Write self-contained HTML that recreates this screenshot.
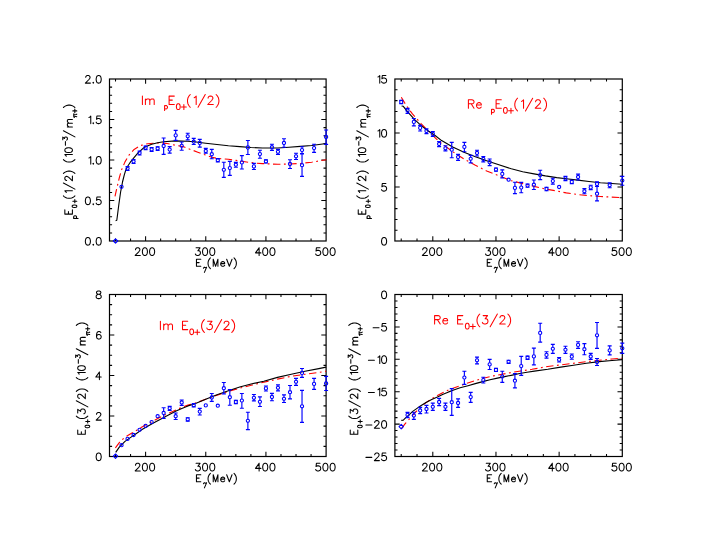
<!DOCTYPE html>
<html><head><meta charset="utf-8"><title>chart</title>
<style>html,body{margin:0;padding:0;background:#fff}svg{display:block}</style></head>
<body>
<svg width="705" height="545" viewBox="0 0 705 545">
<rect width="705" height="545" fill="#fff"/>
<path d="M115.52 241.00v-2.6M115.52 79.00v2.6M130.56 241.00v-2.6M130.56 79.00v2.6M145.60 241.00v-4.8M145.60 79.00v4.8M160.64 241.00v-2.6M160.64 79.00v2.6M175.68 241.00v-2.6M175.68 79.00v2.6M190.73 241.00v-2.6M190.73 79.00v2.6M205.77 241.00v-4.8M205.77 79.00v4.8M220.81 241.00v-2.6M220.81 79.00v2.6M235.85 241.00v-2.6M235.85 79.00v2.6M250.89 241.00v-2.6M250.89 79.00v2.6M265.93 241.00v-4.8M265.93 79.00v4.8M280.98 241.00v-2.6M280.98 79.00v2.6M296.02 241.00v-2.6M296.02 79.00v2.6M311.06 241.00v-2.6M311.06 79.00v2.6M109.50 232.90h2.6M326.10 232.90h-2.6M109.50 224.80h2.6M326.10 224.80h-2.6M109.50 216.70h2.6M326.10 216.70h-2.6M109.50 208.60h2.6M326.10 208.60h-2.6M109.50 200.50h4.8M326.10 200.50h-4.8M109.50 192.40h2.6M326.10 192.40h-2.6M109.50 184.30h2.6M326.10 184.30h-2.6M109.50 176.20h2.6M326.10 176.20h-2.6M109.50 168.10h2.6M326.10 168.10h-2.6M109.50 160.00h4.8M326.10 160.00h-4.8M109.50 151.90h2.6M326.10 151.90h-2.6M109.50 143.80h2.6M326.10 143.80h-2.6M109.50 135.70h2.6M326.10 135.70h-2.6M109.50 127.60h2.6M326.10 127.60h-2.6M109.50 119.50h4.8M326.10 119.50h-4.8M109.50 111.40h2.6M326.10 111.40h-2.6M109.50 103.30h2.6M326.10 103.30h-2.6M109.50 95.20h2.6M326.10 95.20h-2.6M109.50 87.10h2.6M326.10 87.10h-2.6" stroke="#000" stroke-width="1.05" fill="none"/>
<rect x="109.5" y="79.0" width="216.60" height="162.00" fill="none" stroke="#000" stroke-width="1.2"/>
<path transform="translate(84.28 245.10)" d="M3.24 -7.56L2.16 -7.20L1.44 -6.12L1.08 -4.32L1.08 -3.24L1.44 -1.44L2.16 -0.36L3.24 0.00L3.96 0.00L5.04 -0.36L5.76 -1.44L6.12 -3.24L6.12 -4.32L5.76 -6.12L5.04 -7.20L3.96 -7.56L3.24 -7.56M9.00 -0.72L8.64 -0.36L9.00 0.00L9.36 -0.36L9.00 -0.72M14.04 -7.56L12.96 -7.20L12.24 -6.12L11.88 -4.32L11.88 -3.24L12.24 -1.44L12.96 -0.36L14.04 0.00L14.76 0.00L15.84 -0.36L16.56 -1.44L16.92 -3.24L16.92 -4.32L16.56 -6.12L15.84 -7.20L14.76 -7.56L14.04 -7.56" fill="none" stroke="#000" stroke-width="1.05" stroke-linecap="round" stroke-linejoin="round"/>
<path transform="translate(84.28 204.60)" d="M3.24 -7.56L2.16 -7.20L1.44 -6.12L1.08 -4.32L1.08 -3.24L1.44 -1.44L2.16 -0.36L3.24 0.00L3.96 0.00L5.04 -0.36L5.76 -1.44L6.12 -3.24L6.12 -4.32L5.76 -6.12L5.04 -7.20L3.96 -7.56L3.24 -7.56M9.00 -0.72L8.64 -0.36L9.00 0.00L9.36 -0.36L9.00 -0.72M16.20 -7.56L12.60 -7.56L12.24 -4.32L12.60 -4.68L13.68 -5.04L14.76 -5.04L15.84 -4.68L16.56 -3.96L16.92 -2.88L16.92 -2.16L16.56 -1.08L15.84 -0.36L14.76 0.00L13.68 0.00L12.60 -0.36L12.24 -0.72L11.88 -1.44" fill="none" stroke="#000" stroke-width="1.05" stroke-linecap="round" stroke-linejoin="round"/>
<path transform="translate(86.80 164.10)" d="M2.16 -6.12L2.88 -6.48L3.96 -7.56L3.96 0.00M6.48 -0.72L6.12 -0.36L6.48 0.00L6.84 -0.36L6.48 -0.72M11.52 -7.56L10.44 -7.20L9.72 -6.12L9.36 -4.32L9.36 -3.24L9.72 -1.44L10.44 -0.36L11.52 0.00L12.24 0.00L13.32 -0.36L14.04 -1.44L14.40 -3.24L14.40 -4.32L14.04 -6.12L13.32 -7.20L12.24 -7.56L11.52 -7.56" fill="none" stroke="#000" stroke-width="1.05" stroke-linecap="round" stroke-linejoin="round"/>
<path transform="translate(86.80 123.60)" d="M2.16 -6.12L2.88 -6.48L3.96 -7.56L3.96 0.00M6.48 -0.72L6.12 -0.36L6.48 0.00L6.84 -0.36L6.48 -0.72M13.68 -7.56L10.08 -7.56L9.72 -4.32L10.08 -4.68L11.16 -5.04L12.24 -5.04L13.32 -4.68L14.04 -3.96L14.40 -2.88L14.40 -2.16L14.04 -1.08L13.32 -0.36L12.24 0.00L11.16 0.00L10.08 -0.36L9.72 -0.72L9.36 -1.44" fill="none" stroke="#000" stroke-width="1.05" stroke-linecap="round" stroke-linejoin="round"/>
<path transform="translate(84.28 83.10)" d="M1.44 -5.76L1.44 -6.12L1.80 -6.84L2.16 -7.20L2.88 -7.56L4.32 -7.56L5.04 -7.20L5.40 -6.84L5.76 -6.12L5.76 -5.40L5.40 -4.68L4.68 -3.60L1.08 0.00L6.12 0.00M9.00 -0.72L8.64 -0.36L9.00 0.00L9.36 -0.36L9.00 -0.72M14.04 -7.56L12.96 -7.20L12.24 -6.12L11.88 -4.32L11.88 -3.24L12.24 -1.44L12.96 -0.36L14.04 0.00L14.76 0.00L15.84 -0.36L16.56 -1.44L16.92 -3.24L16.92 -4.32L16.56 -6.12L15.84 -7.20L14.76 -7.56L14.04 -7.56" fill="none" stroke="#000" stroke-width="1.05" stroke-linecap="round" stroke-linejoin="round"/>
<path transform="translate(134.10 255.40)" d="M1.44 -5.76L1.44 -6.12L1.80 -6.84L2.16 -7.20L2.88 -7.56L4.32 -7.56L5.04 -7.20L5.40 -6.84L5.76 -6.12L5.76 -5.40L5.40 -4.68L4.68 -3.60L1.08 0.00L6.12 0.00M10.44 -7.56L9.36 -7.20L8.64 -6.12L8.28 -4.32L8.28 -3.24L8.64 -1.44L9.36 -0.36L10.44 0.00L11.16 0.00L12.24 -0.36L12.96 -1.44L13.32 -3.24L13.32 -4.32L12.96 -6.12L12.24 -7.20L11.16 -7.56L10.44 -7.56M17.64 -7.56L16.56 -7.20L15.84 -6.12L15.48 -4.32L15.48 -3.24L15.84 -1.44L16.56 -0.36L17.64 0.00L18.36 0.00L19.44 -0.36L20.16 -1.44L20.52 -3.24L20.52 -4.32L20.16 -6.12L19.44 -7.20L18.36 -7.56L17.64 -7.56" fill="none" stroke="#000" stroke-width="1.05" stroke-linecap="round" stroke-linejoin="round"/>
<path transform="translate(194.27 255.40)" d="M1.80 -7.56L5.76 -7.56L3.60 -4.68L4.68 -4.68L5.40 -4.32L5.76 -3.96L6.12 -2.88L6.12 -2.16L5.76 -1.08L5.04 -0.36L3.96 0.00L2.88 0.00L1.80 -0.36L1.44 -0.72L1.08 -1.44M10.44 -7.56L9.36 -7.20L8.64 -6.12L8.28 -4.32L8.28 -3.24L8.64 -1.44L9.36 -0.36L10.44 0.00L11.16 0.00L12.24 -0.36L12.96 -1.44L13.32 -3.24L13.32 -4.32L12.96 -6.12L12.24 -7.20L11.16 -7.56L10.44 -7.56M17.64 -7.56L16.56 -7.20L15.84 -6.12L15.48 -4.32L15.48 -3.24L15.84 -1.44L16.56 -0.36L17.64 0.00L18.36 0.00L19.44 -0.36L20.16 -1.44L20.52 -3.24L20.52 -4.32L20.16 -6.12L19.44 -7.20L18.36 -7.56L17.64 -7.56" fill="none" stroke="#000" stroke-width="1.05" stroke-linecap="round" stroke-linejoin="round"/>
<path transform="translate(254.43 255.40)" d="M4.68 -7.56L1.08 -2.52L6.48 -2.52M4.68 -7.56L4.68 0.00M10.44 -7.56L9.36 -7.20L8.64 -6.12L8.28 -4.32L8.28 -3.24L8.64 -1.44L9.36 -0.36L10.44 0.00L11.16 0.00L12.24 -0.36L12.96 -1.44L13.32 -3.24L13.32 -4.32L12.96 -6.12L12.24 -7.20L11.16 -7.56L10.44 -7.56M17.64 -7.56L16.56 -7.20L15.84 -6.12L15.48 -4.32L15.48 -3.24L15.84 -1.44L16.56 -0.36L17.64 0.00L18.36 0.00L19.44 -0.36L20.16 -1.44L20.52 -3.24L20.52 -4.32L20.16 -6.12L19.44 -7.20L18.36 -7.56L17.64 -7.56" fill="none" stroke="#000" stroke-width="1.05" stroke-linecap="round" stroke-linejoin="round"/>
<path transform="translate(314.60 255.40)" d="M5.40 -7.56L1.80 -7.56L1.44 -4.32L1.80 -4.68L2.88 -5.04L3.96 -5.04L5.04 -4.68L5.76 -3.96L6.12 -2.88L6.12 -2.16L5.76 -1.08L5.04 -0.36L3.96 0.00L2.88 0.00L1.80 -0.36L1.44 -0.72L1.08 -1.44M10.44 -7.56L9.36 -7.20L8.64 -6.12L8.28 -4.32L8.28 -3.24L8.64 -1.44L9.36 -0.36L10.44 0.00L11.16 0.00L12.24 -0.36L12.96 -1.44L13.32 -3.24L13.32 -4.32L12.96 -6.12L12.24 -7.20L11.16 -7.56L10.44 -7.56M17.64 -7.56L16.56 -7.20L15.84 -6.12L15.48 -4.32L15.48 -3.24L15.84 -1.44L16.56 -0.36L17.64 0.00L18.36 0.00L19.44 -0.36L20.16 -1.44L20.52 -3.24L20.52 -4.32L20.16 -6.12L19.44 -7.20L18.36 -7.56L17.64 -7.56" fill="none" stroke="#000" stroke-width="1.05" stroke-linecap="round" stroke-linejoin="round"/>
<path d="M115.0 196.3 L116.6 189.1 L117.6 185.0 L119.4 177.4 L121.6 169.8 L125.0 161.9 L129.0 155.1 L134.1 149.4 L140.9 145.4 L147.7 143.7 L153.4 143.2 L160.2 142.9 L167.0 143.5 L175.0 145.2 L183.0 146.6 L189.8 149.2 L197.8 152.2 L205.7 155.1 L212.0 157.3 L218.0 158.5 L228.4 159.3 L236.0 160.4 L241.9 161.3 L248.0 162.2 L254.0 163.0 L262.4 163.6 L277.7 164.3 L289.0 164.0 L300.4 163.5 L311.7 162.2 L326.3 159.7" fill="none" stroke="#f00" stroke-width="1.12" stroke-linejoin="round" stroke-dasharray="7.4 3.5 1.8 3.5"/>
<path d="M115.6 220.7 L116.8 220.3 L117.5 215.0 L118.7 205.5 L120.6 192.0 L121.8 185.9 L122.5 182.0 L124.3 174.8 L125.5 170.8 L127.5 166.5 L130.0 162.7 L133.6 158.2 L137.8 153.2 L139.7 151.3 L143.5 148.0 L145.6 146.7 L151.7 144.2 L157.6 142.8 L163.6 141.8 L175.7 140.9 L187.4 141.2 L194.3 141.8 L205.7 143.2 L217.0 144.5 L228.4 145.7 L239.7 146.6 L251.1 147.5 L262.4 148.0 L277.7 148.0 L289.0 147.2 L300.4 146.4 L311.7 145.5 L326.3 143.5" fill="none" stroke="#000" stroke-width="1.12" stroke-linejoin="round"/>
<path d="M127.55 166.5V166.9M127.55 170.1V170.5M125.55 166.5h4M125.55 170.5h4M133.57 159.5V159.9M133.57 163.1V163.5M131.57 159.5h4M131.57 163.5h4M139.58 151.0V151.4M139.58 154.6V155.0M137.58 151.0h4M137.58 155.0h4M145.60 146.0V146.1M145.60 149.3V149.6M143.60 146.0h4M143.60 149.6h4M151.62 147.6V147.8M151.62 151.0V151.4M149.62 147.6h4M149.62 151.4h4M157.63 146.7V146.9M157.63 150.1V150.4M155.63 146.7h4M155.63 150.4h4M163.65 138.0V144.4M163.65 147.6V154.3M161.65 138.0h4M161.65 154.3h4M169.67 146.6V148.0M169.67 151.2V153.1M167.67 146.6h4M167.67 153.1h4M175.68 130.3V133.8M175.68 137.0V140.3M173.68 130.3h4M173.68 140.3h4M181.70 142.0V144.2M181.70 147.4V150.2M179.70 142.0h4M179.70 150.2h4M187.72 133.2V134.7M187.72 137.9V139.8M185.72 133.2h4M185.72 139.8h4M193.73 138.4V140.1M193.73 143.3V144.5M191.73 138.4h4M191.73 144.5h4M199.75 139.4V141.3M199.75 144.5V147.1M197.75 139.4h4M197.75 147.1h4M205.77 148.3V149.4M205.77 152.6V153.1M203.77 148.3h4M203.77 153.1h4M211.78 149.4V152.6M211.78 155.8V158.7M209.78 149.4h4M209.78 158.7h4M217.80 158.6V158.6M217.80 161.8V161.8M215.80 158.6h4M215.80 161.8h4M223.82 162.2V168.2M223.82 171.4V177.4M221.82 162.2h4M221.82 177.4h4M229.83 161.3V166.5M229.83 169.7V175.3M227.83 161.3h4M227.83 175.3h4M235.85 162.4V163.1M235.85 166.3V167.2M233.85 162.4h4M233.85 167.2h4M241.87 155.6V160.8M241.87 164.0V169.0M239.87 155.6h4M239.87 169.0h4M247.88 140.5V145.9M247.88 149.1V154.5M245.88 140.5h4M245.88 154.5h4M253.90 163.4V164.8M253.90 168.0V169.5M251.90 163.4h4M251.90 169.5h4M259.92 150.2V152.5M259.92 155.7V158.2M257.92 150.2h4M257.92 158.2h4M265.93 159.8V159.8M265.93 163.0V163.0M263.93 159.8h4M263.93 163.0h4M271.95 144.2V145.6M271.95 148.8V150.4M269.95 144.2h4M269.95 150.4h4M277.97 149.3V150.2M277.97 153.4V154.3M275.97 149.3h4M275.97 154.3h4M283.98 138.7V141.4M283.98 144.6V147.2M281.98 138.7h4M281.98 147.2h4M290.00 159.7V162.4M290.00 165.6V168.5M288.00 159.7h4M288.00 168.5h4M296.02 153.2V154.7M296.02 157.9V159.5M294.02 153.2h4M294.02 159.5h4M302.03 146.7V148.5M302.03 151.7V153.5M300.03 146.7h4M300.03 153.5h4M302.03 153.8V163.6M302.03 166.8V176.4M300.03 153.8h4M300.03 176.4h4M314.07 144.2V146.5M314.07 149.7V152.3M312.07 144.2h4M312.07 152.3h4M326.10 130.0V135.4M326.10 138.6V144.4M324.10 130.0h4M324.10 144.4h4" stroke="#00f" stroke-width="1.15" fill="none"/>
<g fill="none" stroke="#00f" stroke-width="1.1"><circle cx="121.53" cy="186.8" r="1.6"/><circle cx="127.55" cy="168.5" r="1.6"/><circle cx="133.57" cy="161.5" r="1.6"/><circle cx="139.58" cy="153.0" r="1.6"/><circle cx="145.60" cy="147.7" r="1.6"/><circle cx="151.62" cy="149.4" r="1.6"/><circle cx="157.63" cy="148.5" r="1.6"/><circle cx="163.65" cy="146.0" r="1.6"/><circle cx="169.67" cy="149.6" r="1.6"/><circle cx="175.68" cy="135.4" r="1.6"/><circle cx="181.70" cy="145.8" r="1.6"/><circle cx="187.72" cy="136.3" r="1.6"/><circle cx="193.73" cy="141.7" r="1.6"/><circle cx="199.75" cy="142.9" r="1.6"/><circle cx="205.77" cy="151.0" r="1.6"/><circle cx="211.78" cy="154.2" r="1.6"/><circle cx="217.80" cy="160.2" r="1.6"/><circle cx="223.82" cy="169.8" r="1.6"/><circle cx="229.83" cy="168.1" r="1.6"/><circle cx="235.85" cy="164.7" r="1.6"/><circle cx="241.87" cy="162.4" r="1.6"/><circle cx="247.88" cy="147.5" r="1.6"/><circle cx="253.90" cy="166.4" r="1.6"/><circle cx="259.92" cy="154.1" r="1.6"/><circle cx="265.93" cy="161.4" r="1.6"/><circle cx="271.95" cy="147.2" r="1.6"/><circle cx="277.97" cy="151.8" r="1.6"/><circle cx="283.98" cy="143.0" r="1.6"/><circle cx="290.00" cy="164.0" r="1.6"/><circle cx="296.02" cy="156.3" r="1.6"/><circle cx="302.03" cy="150.1" r="1.6"/><circle cx="302.03" cy="165.2" r="1.6"/><circle cx="314.07" cy="148.1" r="1.6"/><circle cx="326.10" cy="137.0" r="1.6"/></g>
<path d="M113.32 241.0L115.52 238.8L117.72 241.0L115.52 243.2Z" stroke="#00f" stroke-width="1.1" fill="none" stroke-linejoin="round"/>
<path d="M401.22 241.00v-2.6M401.22 79.00v2.6M417.01 241.00v-2.6M417.01 79.00v2.6M432.80 241.00v-4.8M432.80 79.00v4.8M448.59 241.00v-2.6M448.59 79.00v2.6M464.38 241.00v-2.6M464.38 79.00v2.6M480.17 241.00v-2.6M480.17 79.00v2.6M495.97 241.00v-4.8M495.97 79.00v4.8M511.76 241.00v-2.6M511.76 79.00v2.6M527.55 241.00v-2.6M527.55 79.00v2.6M543.34 241.00v-2.6M543.34 79.00v2.6M559.13 241.00v-4.8M559.13 79.00v4.8M574.92 241.00v-2.6M574.92 79.00v2.6M590.72 241.00v-2.6M590.72 79.00v2.6M606.51 241.00v-2.6M606.51 79.00v2.6M394.90 230.20h2.6M622.30 230.20h-2.6M394.90 219.40h2.6M622.30 219.40h-2.6M394.90 208.60h2.6M622.30 208.60h-2.6M394.90 197.80h2.6M622.30 197.80h-2.6M394.90 187.00h4.8M622.30 187.00h-4.8M394.90 176.20h2.6M622.30 176.20h-2.6M394.90 165.40h2.6M622.30 165.40h-2.6M394.90 154.60h2.6M622.30 154.60h-2.6M394.90 143.80h2.6M622.30 143.80h-2.6M394.90 133.00h4.8M622.30 133.00h-4.8M394.90 122.20h2.6M622.30 122.20h-2.6M394.90 111.40h2.6M622.30 111.40h-2.6M394.90 100.60h2.6M622.30 100.60h-2.6M394.90 89.80h2.6M622.30 89.80h-2.6" stroke="#000" stroke-width="1.05" fill="none"/>
<rect x="394.9" y="79.0" width="227.40" height="162.00" fill="none" stroke="#000" stroke-width="1.2"/>
<path transform="translate(380.48 245.10)" d="M3.24 -7.56L2.16 -7.20L1.44 -6.12L1.08 -4.32L1.08 -3.24L1.44 -1.44L2.16 -0.36L3.24 0.00L3.96 0.00L5.04 -0.36L5.76 -1.44L6.12 -3.24L6.12 -4.32L5.76 -6.12L5.04 -7.20L3.96 -7.56L3.24 -7.56" fill="none" stroke="#000" stroke-width="1.05" stroke-linecap="round" stroke-linejoin="round"/>
<path transform="translate(380.48 191.10)" d="M5.40 -7.56L1.80 -7.56L1.44 -4.32L1.80 -4.68L2.88 -5.04L3.96 -5.04L5.04 -4.68L5.76 -3.96L6.12 -2.88L6.12 -2.16L5.76 -1.08L5.04 -0.36L3.96 0.00L2.88 0.00L1.80 -0.36L1.44 -0.72L1.08 -1.44" fill="none" stroke="#000" stroke-width="1.05" stroke-linecap="round" stroke-linejoin="round"/>
<path transform="translate(375.80 137.10)" d="M2.16 -6.12L2.88 -6.48L3.96 -7.56L3.96 0.00M7.92 -7.56L6.84 -7.20L6.12 -6.12L5.76 -4.32L5.76 -3.24L6.12 -1.44L6.84 -0.36L7.92 0.00L8.64 0.00L9.72 -0.36L10.44 -1.44L10.80 -3.24L10.80 -4.32L10.44 -6.12L9.72 -7.20L8.64 -7.56L7.92 -7.56" fill="none" stroke="#000" stroke-width="1.05" stroke-linecap="round" stroke-linejoin="round"/>
<path transform="translate(375.80 83.10)" d="M2.16 -6.12L2.88 -6.48L3.96 -7.56L3.96 0.00M10.08 -7.56L6.48 -7.56L6.12 -4.32L6.48 -4.68L7.56 -5.04L8.64 -5.04L9.72 -4.68L10.44 -3.96L10.80 -2.88L10.80 -2.16L10.44 -1.08L9.72 -0.36L8.64 0.00L7.56 0.00L6.48 -0.36L6.12 -0.72L5.76 -1.44" fill="none" stroke="#000" stroke-width="1.05" stroke-linecap="round" stroke-linejoin="round"/>
<path transform="translate(421.30 255.40)" d="M1.44 -5.76L1.44 -6.12L1.80 -6.84L2.16 -7.20L2.88 -7.56L4.32 -7.56L5.04 -7.20L5.40 -6.84L5.76 -6.12L5.76 -5.40L5.40 -4.68L4.68 -3.60L1.08 0.00L6.12 0.00M10.44 -7.56L9.36 -7.20L8.64 -6.12L8.28 -4.32L8.28 -3.24L8.64 -1.44L9.36 -0.36L10.44 0.00L11.16 0.00L12.24 -0.36L12.96 -1.44L13.32 -3.24L13.32 -4.32L12.96 -6.12L12.24 -7.20L11.16 -7.56L10.44 -7.56M17.64 -7.56L16.56 -7.20L15.84 -6.12L15.48 -4.32L15.48 -3.24L15.84 -1.44L16.56 -0.36L17.64 0.00L18.36 0.00L19.44 -0.36L20.16 -1.44L20.52 -3.24L20.52 -4.32L20.16 -6.12L19.44 -7.20L18.36 -7.56L17.64 -7.56" fill="none" stroke="#000" stroke-width="1.05" stroke-linecap="round" stroke-linejoin="round"/>
<path transform="translate(484.47 255.40)" d="M1.80 -7.56L5.76 -7.56L3.60 -4.68L4.68 -4.68L5.40 -4.32L5.76 -3.96L6.12 -2.88L6.12 -2.16L5.76 -1.08L5.04 -0.36L3.96 0.00L2.88 0.00L1.80 -0.36L1.44 -0.72L1.08 -1.44M10.44 -7.56L9.36 -7.20L8.64 -6.12L8.28 -4.32L8.28 -3.24L8.64 -1.44L9.36 -0.36L10.44 0.00L11.16 0.00L12.24 -0.36L12.96 -1.44L13.32 -3.24L13.32 -4.32L12.96 -6.12L12.24 -7.20L11.16 -7.56L10.44 -7.56M17.64 -7.56L16.56 -7.20L15.84 -6.12L15.48 -4.32L15.48 -3.24L15.84 -1.44L16.56 -0.36L17.64 0.00L18.36 0.00L19.44 -0.36L20.16 -1.44L20.52 -3.24L20.52 -4.32L20.16 -6.12L19.44 -7.20L18.36 -7.56L17.64 -7.56" fill="none" stroke="#000" stroke-width="1.05" stroke-linecap="round" stroke-linejoin="round"/>
<path transform="translate(547.63 255.40)" d="M4.68 -7.56L1.08 -2.52L6.48 -2.52M4.68 -7.56L4.68 0.00M10.44 -7.56L9.36 -7.20L8.64 -6.12L8.28 -4.32L8.28 -3.24L8.64 -1.44L9.36 -0.36L10.44 0.00L11.16 0.00L12.24 -0.36L12.96 -1.44L13.32 -3.24L13.32 -4.32L12.96 -6.12L12.24 -7.20L11.16 -7.56L10.44 -7.56M17.64 -7.56L16.56 -7.20L15.84 -6.12L15.48 -4.32L15.48 -3.24L15.84 -1.44L16.56 -0.36L17.64 0.00L18.36 0.00L19.44 -0.36L20.16 -1.44L20.52 -3.24L20.52 -4.32L20.16 -6.12L19.44 -7.20L18.36 -7.56L17.64 -7.56" fill="none" stroke="#000" stroke-width="1.05" stroke-linecap="round" stroke-linejoin="round"/>
<path transform="translate(610.80 255.40)" d="M5.40 -7.56L1.80 -7.56L1.44 -4.32L1.80 -4.68L2.88 -5.04L3.96 -5.04L5.04 -4.68L5.76 -3.96L6.12 -2.88L6.12 -2.16L5.76 -1.08L5.04 -0.36L3.96 0.00L2.88 0.00L1.80 -0.36L1.44 -0.72L1.08 -1.44M10.44 -7.56L9.36 -7.20L8.64 -6.12L8.28 -4.32L8.28 -3.24L8.64 -1.44L9.36 -0.36L10.44 0.00L11.16 0.00L12.24 -0.36L12.96 -1.44L13.32 -3.24L13.32 -4.32L12.96 -6.12L12.24 -7.20L11.16 -7.56L10.44 -7.56M17.64 -7.56L16.56 -7.20L15.84 -6.12L15.48 -4.32L15.48 -3.24L15.84 -1.44L16.56 -0.36L17.64 0.00L18.36 0.00L19.44 -0.36L20.16 -1.44L20.52 -3.24L20.52 -4.32L20.16 -6.12L19.44 -7.20L18.36 -7.56L17.64 -7.56" fill="none" stroke="#000" stroke-width="1.05" stroke-linecap="round" stroke-linejoin="round"/>
<path d="M401.3 97.3 L404.5 102.6 L407.9 107.7 L412.4 113.9 L417.0 119.0 L421.5 124.1 L426.0 128.7 L430.6 133.2 L435.7 138.3 L441.3 143.2 L452.7 151.7 L464.0 159.0 L475.4 165.3 L486.7 171.0 L498.1 175.5 L511.3 180.7 L522.7 183.6 L534.0 186.4 L545.4 189.0 L556.7 191.0 L566.3 192.9 L577.7 194.5 L589.0 195.7 L600.4 196.5 L611.7 197.1 L622.2 197.7" fill="none" stroke="#f00" stroke-width="1.12" stroke-linejoin="round" stroke-dasharray="7.4 3.5 1.8 3.5"/>
<path d="M401.6 106.0 L403.3 106.3 L407.9 112.2 L414.7 119.6 L421.5 125.9 L428.3 131.0 L435.1 135.5 L441.6 140.6 L452.7 147.1 L464.0 152.2 L475.4 156.8 L486.7 160.7 L498.1 164.5 L511.3 168.8 L522.7 171.7 L534.0 173.9 L545.4 175.9 L556.7 177.6 L566.3 178.7 L577.7 180.1 L589.0 181.5 L600.4 182.7 L611.7 183.5 L622.2 184.3" fill="none" stroke="#000" stroke-width="1.12" stroke-linejoin="round"/>
<path d="M401.22 100.4V100.4M401.22 103.6V103.6M399.22 100.4h4M399.22 103.6h4M407.53 108.3V108.9M407.53 112.1V113.4M405.53 108.3h4M405.53 113.4h4M413.85 118.5V120.3M413.85 123.5V125.9M411.85 118.5h4M411.85 125.9h4M420.17 125.3V126.3M420.17 129.5V131.0M418.17 125.3h4M418.17 131.0h4M426.48 128.7V129.4M426.48 132.6V133.6M424.48 128.7h4M424.48 133.6h4M432.80 131.6V132.3M432.80 135.5V136.4M430.80 131.6h4M430.80 136.4h4M439.12 141.5V142.4M439.12 145.6V146.6M437.12 141.5h4M437.12 146.6h4M445.43 145.7V146.7M445.43 149.9V150.9M443.43 145.7h4M443.43 150.9h4M451.75 142.4V148.1M451.75 151.3V157.7M449.75 142.4h4M449.75 157.7h4M458.07 154.3V155.5M458.07 158.7V160.4M456.07 154.3h4M456.07 160.4h4M464.38 142.4V145.3M464.38 148.5V151.7M462.38 142.4h4M462.38 151.7h4M470.70 155.4V157.2M470.70 160.4V162.8M468.70 155.4h4M468.70 162.8h4M477.02 150.2V151.4M477.02 154.6V156.0M475.02 150.2h4M475.02 156.0h4M483.33 156.5V157.4M483.33 160.6V161.9M481.33 156.5h4M481.33 161.9h4M489.65 159.0V160.6M489.65 163.8V165.6M487.65 159.0h4M487.65 165.6h4M495.97 168.0V168.0M495.97 171.2V171.2M493.97 168.0h4M493.97 171.2h4M502.28 169.9V172.3M502.28 175.5V177.9M500.28 169.9h4M500.28 177.9h4M514.92 182.2V186.3M514.92 189.5V193.6M512.92 182.2h4M512.92 193.6h4M521.23 182.4V186.0M521.23 189.2V192.7M519.23 182.4h4M519.23 192.7h4M527.55 184.0V184.0M527.55 187.2V187.2M525.55 184.0h4M525.55 187.2h4M533.87 180.0V183.1M533.87 186.3V189.5M531.87 180.0h4M531.87 189.5h4M540.18 170.2V173.5M540.18 176.7V179.6M538.18 170.2h4M538.18 179.6h4M546.50 187.3V187.4M546.50 190.6V190.7M544.50 187.3h4M544.50 190.7h4M552.82 178.2V179.5M552.82 182.7V184.1M550.82 178.2h4M550.82 184.1h4M565.45 176.3V176.8M565.45 180.0V180.6M563.45 176.3h4M563.45 180.6h4M571.77 180.2V180.3M571.77 183.5V183.6M569.77 180.2h4M569.77 183.6h4M578.08 174.1V175.4M578.08 178.6V180.0M576.08 174.1h4M576.08 180.0h4M584.40 188.6V189.6M584.40 192.8V193.7M582.40 188.6h4M582.40 193.7h4M590.72 185.2V185.8M590.72 189.0V189.6M588.72 185.2h4M588.72 189.6h4M597.03 181.8V182.4M597.03 185.6V186.4M595.03 181.8h4M595.03 186.4h4M597.03 186.3V192.1M597.03 195.3V200.8M595.03 186.3h4M595.03 200.8h4M609.67 182.7V183.6M609.67 186.8V187.7M607.67 182.7h4M607.67 187.7h4M622.30 176.3V179.0M622.30 182.2V185.2M620.30 176.3h4M620.30 185.2h4" stroke="#00f" stroke-width="1.15" fill="none"/>
<g fill="none" stroke="#00f" stroke-width="1.1"><circle cx="401.22" cy="102.0" r="1.6"/><circle cx="407.53" cy="110.5" r="1.6"/><circle cx="413.85" cy="121.9" r="1.6"/><circle cx="420.17" cy="127.9" r="1.6"/><circle cx="426.48" cy="131.0" r="1.6"/><circle cx="432.80" cy="133.9" r="1.6"/><circle cx="439.12" cy="144.0" r="1.6"/><circle cx="445.43" cy="148.3" r="1.6"/><circle cx="451.75" cy="149.7" r="1.6"/><circle cx="458.07" cy="157.1" r="1.6"/><circle cx="464.38" cy="146.9" r="1.6"/><circle cx="470.70" cy="158.8" r="1.6"/><circle cx="477.02" cy="153.0" r="1.6"/><circle cx="483.33" cy="159.0" r="1.6"/><circle cx="489.65" cy="162.2" r="1.6"/><circle cx="495.97" cy="169.6" r="1.6"/><circle cx="502.28" cy="173.9" r="1.6"/><circle cx="508.60" cy="179.7" r="1.6"/><circle cx="514.92" cy="187.9" r="1.6"/><circle cx="521.23" cy="187.6" r="1.6"/><circle cx="527.55" cy="185.6" r="1.6"/><circle cx="533.87" cy="184.7" r="1.6"/><circle cx="540.18" cy="175.1" r="1.6"/><circle cx="546.50" cy="189.0" r="1.6"/><circle cx="552.82" cy="181.1" r="1.6"/><circle cx="559.13" cy="187.0" r="1.6"/><circle cx="565.45" cy="178.4" r="1.6"/><circle cx="571.77" cy="181.9" r="1.6"/><circle cx="578.08" cy="177.0" r="1.6"/><circle cx="584.40" cy="191.2" r="1.6"/><circle cx="590.72" cy="187.4" r="1.6"/><circle cx="597.03" cy="184.0" r="1.6"/><circle cx="597.03" cy="193.7" r="1.6"/><circle cx="609.67" cy="185.2" r="1.6"/><circle cx="622.30" cy="180.6" r="1.6"/></g>
<path d="M115.52 456.50v-2.6M115.52 294.50v2.6M130.56 456.50v-2.6M130.56 294.50v2.6M145.60 456.50v-4.8M145.60 294.50v4.8M160.64 456.50v-2.6M160.64 294.50v2.6M175.68 456.50v-2.6M175.68 294.50v2.6M190.73 456.50v-2.6M190.73 294.50v2.6M205.77 456.50v-4.8M205.77 294.50v4.8M220.81 456.50v-2.6M220.81 294.50v2.6M235.85 456.50v-2.6M235.85 294.50v2.6M250.89 456.50v-2.6M250.89 294.50v2.6M265.93 456.50v-4.8M265.93 294.50v4.8M280.98 456.50v-2.6M280.98 294.50v2.6M296.02 456.50v-2.6M296.02 294.50v2.6M311.06 456.50v-2.6M311.06 294.50v2.6M109.50 446.38h2.6M326.10 446.38h-2.6M109.50 436.25h2.6M326.10 436.25h-2.6M109.50 426.12h2.6M326.10 426.12h-2.6M109.50 416.00h4.8M326.10 416.00h-4.8M109.50 405.88h2.6M326.10 405.88h-2.6M109.50 395.75h2.6M326.10 395.75h-2.6M109.50 385.62h2.6M326.10 385.62h-2.6M109.50 375.50h4.8M326.10 375.50h-4.8M109.50 365.38h2.6M326.10 365.38h-2.6M109.50 355.25h2.6M326.10 355.25h-2.6M109.50 345.12h2.6M326.10 345.12h-2.6M109.50 335.00h4.8M326.10 335.00h-4.8M109.50 324.88h2.6M326.10 324.88h-2.6M109.50 314.75h2.6M326.10 314.75h-2.6M109.50 304.62h2.6M326.10 304.62h-2.6" stroke="#000" stroke-width="1.05" fill="none"/>
<rect x="109.5" y="294.5" width="216.60" height="162.00" fill="none" stroke="#000" stroke-width="1.2"/>
<path transform="translate(95.08 460.60)" d="M3.24 -7.56L2.16 -7.20L1.44 -6.12L1.08 -4.32L1.08 -3.24L1.44 -1.44L2.16 -0.36L3.24 0.00L3.96 0.00L5.04 -0.36L5.76 -1.44L6.12 -3.24L6.12 -4.32L5.76 -6.12L5.04 -7.20L3.96 -7.56L3.24 -7.56" fill="none" stroke="#000" stroke-width="1.05" stroke-linecap="round" stroke-linejoin="round"/>
<path transform="translate(95.08 420.10)" d="M1.44 -5.76L1.44 -6.12L1.80 -6.84L2.16 -7.20L2.88 -7.56L4.32 -7.56L5.04 -7.20L5.40 -6.84L5.76 -6.12L5.76 -5.40L5.40 -4.68L4.68 -3.60L1.08 0.00L6.12 0.00" fill="none" stroke="#000" stroke-width="1.05" stroke-linecap="round" stroke-linejoin="round"/>
<path transform="translate(94.72 379.60)" d="M4.68 -7.56L1.08 -2.52L6.48 -2.52M4.68 -7.56L4.68 0.00" fill="none" stroke="#000" stroke-width="1.05" stroke-linecap="round" stroke-linejoin="round"/>
<path transform="translate(95.08 339.10)" d="M5.76 -6.48L5.40 -7.20L4.32 -7.56L3.60 -7.56L2.52 -7.20L1.80 -6.12L1.44 -4.32L1.44 -2.52L1.80 -1.08L2.52 -0.36L3.60 0.00L3.96 0.00L5.04 -0.36L5.76 -1.08L6.12 -2.16L6.12 -2.52L5.76 -3.60L5.04 -4.32L3.96 -4.68L3.60 -4.68L2.52 -4.32L1.80 -3.60L1.44 -2.52" fill="none" stroke="#000" stroke-width="1.05" stroke-linecap="round" stroke-linejoin="round"/>
<path transform="translate(95.08 298.60)" d="M2.88 -7.56L1.80 -7.20L1.44 -6.48L1.44 -5.76L1.80 -5.04L2.52 -4.68L3.96 -4.32L5.04 -3.96L5.76 -3.24L6.12 -2.52L6.12 -1.44L5.76 -0.72L5.40 -0.36L4.32 0.00L2.88 0.00L1.80 -0.36L1.44 -0.72L1.08 -1.44L1.08 -2.52L1.44 -3.24L2.16 -3.96L3.24 -4.32L4.68 -4.68L5.40 -5.04L5.76 -5.76L5.76 -6.48L5.40 -7.20L4.32 -7.56L2.88 -7.56" fill="none" stroke="#000" stroke-width="1.05" stroke-linecap="round" stroke-linejoin="round"/>
<path transform="translate(134.10 470.90)" d="M1.44 -5.76L1.44 -6.12L1.80 -6.84L2.16 -7.20L2.88 -7.56L4.32 -7.56L5.04 -7.20L5.40 -6.84L5.76 -6.12L5.76 -5.40L5.40 -4.68L4.68 -3.60L1.08 0.00L6.12 0.00M10.44 -7.56L9.36 -7.20L8.64 -6.12L8.28 -4.32L8.28 -3.24L8.64 -1.44L9.36 -0.36L10.44 0.00L11.16 0.00L12.24 -0.36L12.96 -1.44L13.32 -3.24L13.32 -4.32L12.96 -6.12L12.24 -7.20L11.16 -7.56L10.44 -7.56M17.64 -7.56L16.56 -7.20L15.84 -6.12L15.48 -4.32L15.48 -3.24L15.84 -1.44L16.56 -0.36L17.64 0.00L18.36 0.00L19.44 -0.36L20.16 -1.44L20.52 -3.24L20.52 -4.32L20.16 -6.12L19.44 -7.20L18.36 -7.56L17.64 -7.56" fill="none" stroke="#000" stroke-width="1.05" stroke-linecap="round" stroke-linejoin="round"/>
<path transform="translate(194.27 470.90)" d="M1.80 -7.56L5.76 -7.56L3.60 -4.68L4.68 -4.68L5.40 -4.32L5.76 -3.96L6.12 -2.88L6.12 -2.16L5.76 -1.08L5.04 -0.36L3.96 0.00L2.88 0.00L1.80 -0.36L1.44 -0.72L1.08 -1.44M10.44 -7.56L9.36 -7.20L8.64 -6.12L8.28 -4.32L8.28 -3.24L8.64 -1.44L9.36 -0.36L10.44 0.00L11.16 0.00L12.24 -0.36L12.96 -1.44L13.32 -3.24L13.32 -4.32L12.96 -6.12L12.24 -7.20L11.16 -7.56L10.44 -7.56M17.64 -7.56L16.56 -7.20L15.84 -6.12L15.48 -4.32L15.48 -3.24L15.84 -1.44L16.56 -0.36L17.64 0.00L18.36 0.00L19.44 -0.36L20.16 -1.44L20.52 -3.24L20.52 -4.32L20.16 -6.12L19.44 -7.20L18.36 -7.56L17.64 -7.56" fill="none" stroke="#000" stroke-width="1.05" stroke-linecap="round" stroke-linejoin="round"/>
<path transform="translate(254.43 470.90)" d="M4.68 -7.56L1.08 -2.52L6.48 -2.52M4.68 -7.56L4.68 0.00M10.44 -7.56L9.36 -7.20L8.64 -6.12L8.28 -4.32L8.28 -3.24L8.64 -1.44L9.36 -0.36L10.44 0.00L11.16 0.00L12.24 -0.36L12.96 -1.44L13.32 -3.24L13.32 -4.32L12.96 -6.12L12.24 -7.20L11.16 -7.56L10.44 -7.56M17.64 -7.56L16.56 -7.20L15.84 -6.12L15.48 -4.32L15.48 -3.24L15.84 -1.44L16.56 -0.36L17.64 0.00L18.36 0.00L19.44 -0.36L20.16 -1.44L20.52 -3.24L20.52 -4.32L20.16 -6.12L19.44 -7.20L18.36 -7.56L17.64 -7.56" fill="none" stroke="#000" stroke-width="1.05" stroke-linecap="round" stroke-linejoin="round"/>
<path transform="translate(314.60 470.90)" d="M5.40 -7.56L1.80 -7.56L1.44 -4.32L1.80 -4.68L2.88 -5.04L3.96 -5.04L5.04 -4.68L5.76 -3.96L6.12 -2.88L6.12 -2.16L5.76 -1.08L5.04 -0.36L3.96 0.00L2.88 0.00L1.80 -0.36L1.44 -0.72L1.08 -1.44M10.44 -7.56L9.36 -7.20L8.64 -6.12L8.28 -4.32L8.28 -3.24L8.64 -1.44L9.36 -0.36L10.44 0.00L11.16 0.00L12.24 -0.36L12.96 -1.44L13.32 -3.24L13.32 -4.32L12.96 -6.12L12.24 -7.20L11.16 -7.56L10.44 -7.56M17.64 -7.56L16.56 -7.20L15.84 -6.12L15.48 -4.32L15.48 -3.24L15.84 -1.44L16.56 -0.36L17.64 0.00L18.36 0.00L19.44 -0.36L20.16 -1.44L20.52 -3.24L20.52 -4.32L20.16 -6.12L19.44 -7.20L18.36 -7.56L17.64 -7.56" fill="none" stroke="#000" stroke-width="1.05" stroke-linecap="round" stroke-linejoin="round"/>
<path d="M115.4 447.9 L119.3 442.6 L123.9 438.0 L130.7 433.7 L136.4 430.4 L142.0 427.0 L147.7 423.8 L153.4 421.0 L159.1 417.8 L164.7 415.1 L170.4 412.5 L176.1 410.0 L181.8 407.4 L188.0 405.1 L194.3 403.5 L205.7 399.3 L217.0 395.2 L228.4 391.3 L239.7 388.2 L251.1 385.3 L263.8 382.2 L277.5 379.1 L291.3 376.3 L305.0 374.3 L318.8 372.5 L326.1 371.2" fill="none" stroke="#f00" stroke-width="1.12" stroke-linejoin="round" stroke-dasharray="7.4 3.5 1.8 3.5"/>
<path d="M115.7 452.4 L119.3 447.1 L125.0 441.4 L130.7 437.4 L136.4 433.5 L142.0 429.6 L147.7 426.2 L153.4 423.0 L159.1 419.9 L164.7 417.0 L170.4 413.9 L176.1 411.1 L181.8 408.5 L188.0 405.9 L194.3 404.0 L205.7 399.3 L217.0 394.7 L228.4 390.8 L239.7 387.0 L251.1 384.0 L263.8 381.2 L277.5 377.4 L291.3 374.2 L305.0 371.3 L318.8 368.6 L326.1 367.1" fill="none" stroke="#000" stroke-width="1.12" stroke-linejoin="round"/>
<path d="M163.65 407.7V411.4M163.65 414.6V418.4M161.65 407.7h4M161.65 418.4h4M169.67 406.3V406.7M169.67 409.9V410.3M167.67 406.3h4M167.67 410.3h4M175.68 413.0V414.6M175.68 417.8V419.5M173.68 413.0h4M173.68 419.5h4M181.70 400.0V400.9M181.70 404.1V405.4M179.70 400.0h4M179.70 405.4h4M187.72 417.7V417.8M187.72 421.0V421.1M185.72 417.7h4M185.72 421.1h4M193.73 403.5V403.6M193.73 406.8V406.9M191.73 403.5h4M191.73 406.9h4M199.75 408.4V410.0M199.75 413.2V415.0M197.75 408.4h4M197.75 415.0h4M211.78 393.5V395.9M211.78 399.1V401.4M209.78 393.5h4M209.78 401.4h4M223.82 382.5V386.6M223.82 389.8V393.8M221.82 382.5h4M221.82 393.8h4M229.83 389.6V395.6M229.83 398.8V405.2M227.83 389.6h4M227.83 405.2h4M235.85 400.4V400.4M235.85 403.6V403.6M233.85 400.4h4M233.85 403.6h4M241.87 393.5V399.0M241.87 402.2V408.2M239.87 393.5h4M239.87 408.2h4M247.88 412.2V419.2M247.88 422.4V429.6M245.88 412.2h4M245.88 429.6h4M253.90 394.5V396.2M253.90 399.4V400.9M251.90 394.5h4M251.90 400.9h4M259.92 396.8V400.2M259.92 403.4V406.5M257.92 396.8h4M257.92 406.5h4M265.93 386.0V386.8M265.93 390.0V391.0M263.93 386.0h4M263.93 391.0h4M271.95 393.3V395.4M271.95 398.6V400.7M269.95 393.3h4M269.95 400.7h4M277.97 384.9V386.2M277.97 389.4V390.8M275.97 384.9h4M275.97 390.8h4M283.98 394.9V397.2M283.98 400.4V402.5M281.98 394.9h4M281.98 402.5h4M290.00 385.5V390.6M290.00 393.8V398.8M288.00 385.5h4M288.00 398.8h4M296.02 378.4V380.2M296.02 383.4V385.3M294.02 378.4h4M294.02 385.3h4M302.03 368.5V371.3M302.03 374.5V377.4M300.03 368.5h4M300.03 377.4h4M302.03 390.4V404.7M302.03 407.9V422.4M300.03 390.4h4M300.03 422.4h4M314.07 378.4V382.3M314.07 385.5V389.4M312.07 378.4h4M312.07 389.4h4M326.10 376.3V381.9M326.10 385.1V390.5M324.10 376.3h4M324.10 390.5h4" stroke="#00f" stroke-width="1.15" fill="none"/>
<g fill="none" stroke="#00f" stroke-width="1.1"><circle cx="121.53" cy="445.2" r="1.6"/><circle cx="127.55" cy="438.9" r="1.6"/><circle cx="133.57" cy="435.0" r="1.6"/><circle cx="139.58" cy="429.8" r="1.6"/><circle cx="145.60" cy="425.9" r="1.6"/><circle cx="151.62" cy="422.1" r="1.6"/><circle cx="157.63" cy="416.2" r="1.6"/><circle cx="163.65" cy="413.0" r="1.6"/><circle cx="169.67" cy="408.3" r="1.6"/><circle cx="175.68" cy="416.2" r="1.6"/><circle cx="181.70" cy="402.5" r="1.6"/><circle cx="187.72" cy="419.4" r="1.6"/><circle cx="193.73" cy="405.2" r="1.6"/><circle cx="199.75" cy="411.6" r="1.6"/><circle cx="205.77" cy="405.4" r="1.6"/><circle cx="211.78" cy="397.5" r="1.6"/><circle cx="217.80" cy="405.7" r="1.6"/><circle cx="223.82" cy="388.2" r="1.6"/><circle cx="229.83" cy="397.2" r="1.6"/><circle cx="235.85" cy="402.0" r="1.6"/><circle cx="241.87" cy="400.6" r="1.6"/><circle cx="247.88" cy="420.8" r="1.6"/><circle cx="253.90" cy="397.8" r="1.6"/><circle cx="259.92" cy="401.8" r="1.6"/><circle cx="265.93" cy="388.4" r="1.6"/><circle cx="271.95" cy="397.0" r="1.6"/><circle cx="277.97" cy="387.8" r="1.6"/><circle cx="283.98" cy="398.8" r="1.6"/><circle cx="290.00" cy="392.2" r="1.6"/><circle cx="296.02" cy="381.8" r="1.6"/><circle cx="302.03" cy="372.9" r="1.6"/><circle cx="302.03" cy="406.3" r="1.6"/><circle cx="314.07" cy="383.9" r="1.6"/><circle cx="326.10" cy="383.5" r="1.6"/></g>
<path d="M113.32 456.2L115.52 454.0L117.72 456.2L115.52 458.4Z" stroke="#00f" stroke-width="1.1" fill="none" stroke-linejoin="round"/>
<path d="M401.22 456.50v-2.6M401.22 294.50v2.6M417.01 456.50v-2.6M417.01 294.50v2.6M432.80 456.50v-4.8M432.80 294.50v4.8M448.59 456.50v-2.6M448.59 294.50v2.6M464.38 456.50v-2.6M464.38 294.50v2.6M480.17 456.50v-2.6M480.17 294.50v2.6M495.97 456.50v-4.8M495.97 294.50v4.8M511.76 456.50v-2.6M511.76 294.50v2.6M527.55 456.50v-2.6M527.55 294.50v2.6M543.34 456.50v-2.6M543.34 294.50v2.6M559.13 456.50v-4.8M559.13 294.50v4.8M574.92 456.50v-2.6M574.92 294.50v2.6M590.72 456.50v-2.6M590.72 294.50v2.6M606.51 456.50v-2.6M606.51 294.50v2.6M394.90 450.02h2.6M622.30 450.02h-2.6M394.90 443.54h2.6M622.30 443.54h-2.6M394.90 437.06h2.6M622.30 437.06h-2.6M394.90 430.58h2.6M622.30 430.58h-2.6M394.90 424.10h4.8M622.30 424.10h-4.8M394.90 417.62h2.6M622.30 417.62h-2.6M394.90 411.14h2.6M622.30 411.14h-2.6M394.90 404.66h2.6M622.30 404.66h-2.6M394.90 398.18h2.6M622.30 398.18h-2.6M394.90 391.70h4.8M622.30 391.70h-4.8M394.90 385.22h2.6M622.30 385.22h-2.6M394.90 378.74h2.6M622.30 378.74h-2.6M394.90 372.26h2.6M622.30 372.26h-2.6M394.90 365.78h2.6M622.30 365.78h-2.6M394.90 359.30h4.8M622.30 359.30h-4.8M394.90 352.82h2.6M622.30 352.82h-2.6M394.90 346.34h2.6M622.30 346.34h-2.6M394.90 339.86h2.6M622.30 339.86h-2.6M394.90 333.38h2.6M622.30 333.38h-2.6M394.90 326.90h4.8M622.30 326.90h-4.8M394.90 320.42h2.6M622.30 320.42h-2.6M394.90 313.94h2.6M622.30 313.94h-2.6M394.90 307.46h2.6M622.30 307.46h-2.6M394.90 300.98h2.6M622.30 300.98h-2.6" stroke="#000" stroke-width="1.05" fill="none"/>
<rect x="394.9" y="294.5" width="227.40" height="162.00" fill="none" stroke="#000" stroke-width="1.2"/>
<path transform="translate(363.92 460.60)" d="M1.98 -3.24L7.92 -3.24M10.80 -5.76L10.80 -6.12L11.16 -6.84L11.52 -7.20L12.24 -7.56L13.68 -7.56L14.40 -7.20L14.76 -6.84L15.12 -6.12L15.12 -5.40L14.76 -4.68L14.04 -3.60L10.44 0.00L15.48 0.00M21.96 -7.56L18.36 -7.56L18.00 -4.32L18.36 -4.68L19.44 -5.04L20.52 -5.04L21.60 -4.68L22.32 -3.96L22.68 -2.88L22.68 -2.16L22.32 -1.08L21.60 -0.36L20.52 0.00L19.44 0.00L18.36 -0.36L18.00 -0.72L17.64 -1.44" fill="none" stroke="#000" stroke-width="1.05" stroke-linecap="round" stroke-linejoin="round"/>
<path transform="translate(363.92 428.20)" d="M1.98 -3.24L7.92 -3.24M10.80 -5.76L10.80 -6.12L11.16 -6.84L11.52 -7.20L12.24 -7.56L13.68 -7.56L14.40 -7.20L14.76 -6.84L15.12 -6.12L15.12 -5.40L14.76 -4.68L14.04 -3.60L10.44 0.00L15.48 0.00M19.80 -7.56L18.72 -7.20L18.00 -6.12L17.64 -4.32L17.64 -3.24L18.00 -1.44L18.72 -0.36L19.80 0.00L20.52 0.00L21.60 -0.36L22.32 -1.44L22.68 -3.24L22.68 -4.32L22.32 -6.12L21.60 -7.20L20.52 -7.56L19.80 -7.56" fill="none" stroke="#000" stroke-width="1.05" stroke-linecap="round" stroke-linejoin="round"/>
<path transform="translate(366.44 395.80)" d="M1.98 -3.24L7.92 -3.24M11.52 -6.12L12.24 -6.48L13.32 -7.56L13.32 0.00M19.44 -7.56L15.84 -7.56L15.48 -4.32L15.84 -4.68L16.92 -5.04L18.00 -5.04L19.08 -4.68L19.80 -3.96L20.16 -2.88L20.16 -2.16L19.80 -1.08L19.08 -0.36L18.00 0.00L16.92 0.00L15.84 -0.36L15.48 -0.72L15.12 -1.44" fill="none" stroke="#000" stroke-width="1.05" stroke-linecap="round" stroke-linejoin="round"/>
<path transform="translate(366.44 363.40)" d="M1.98 -3.24L7.92 -3.24M11.52 -6.12L12.24 -6.48L13.32 -7.56L13.32 0.00M17.28 -7.56L16.20 -7.20L15.48 -6.12L15.12 -4.32L15.12 -3.24L15.48 -1.44L16.20 -0.36L17.28 0.00L18.00 0.00L19.08 -0.36L19.80 -1.44L20.16 -3.24L20.16 -4.32L19.80 -6.12L19.08 -7.20L18.00 -7.56L17.28 -7.56" fill="none" stroke="#000" stroke-width="1.05" stroke-linecap="round" stroke-linejoin="round"/>
<path transform="translate(371.12 331.00)" d="M1.98 -3.24L7.92 -3.24M14.76 -7.56L11.16 -7.56L10.80 -4.32L11.16 -4.68L12.24 -5.04L13.32 -5.04L14.40 -4.68L15.12 -3.96L15.48 -2.88L15.48 -2.16L15.12 -1.08L14.40 -0.36L13.32 0.00L12.24 0.00L11.16 -0.36L10.80 -0.72L10.44 -1.44" fill="none" stroke="#000" stroke-width="1.05" stroke-linecap="round" stroke-linejoin="round"/>
<path transform="translate(380.48 298.60)" d="M3.24 -7.56L2.16 -7.20L1.44 -6.12L1.08 -4.32L1.08 -3.24L1.44 -1.44L2.16 -0.36L3.24 0.00L3.96 0.00L5.04 -0.36L5.76 -1.44L6.12 -3.24L6.12 -4.32L5.76 -6.12L5.04 -7.20L3.96 -7.56L3.24 -7.56" fill="none" stroke="#000" stroke-width="1.05" stroke-linecap="round" stroke-linejoin="round"/>
<path transform="translate(421.30 470.90)" d="M1.44 -5.76L1.44 -6.12L1.80 -6.84L2.16 -7.20L2.88 -7.56L4.32 -7.56L5.04 -7.20L5.40 -6.84L5.76 -6.12L5.76 -5.40L5.40 -4.68L4.68 -3.60L1.08 0.00L6.12 0.00M10.44 -7.56L9.36 -7.20L8.64 -6.12L8.28 -4.32L8.28 -3.24L8.64 -1.44L9.36 -0.36L10.44 0.00L11.16 0.00L12.24 -0.36L12.96 -1.44L13.32 -3.24L13.32 -4.32L12.96 -6.12L12.24 -7.20L11.16 -7.56L10.44 -7.56M17.64 -7.56L16.56 -7.20L15.84 -6.12L15.48 -4.32L15.48 -3.24L15.84 -1.44L16.56 -0.36L17.64 0.00L18.36 0.00L19.44 -0.36L20.16 -1.44L20.52 -3.24L20.52 -4.32L20.16 -6.12L19.44 -7.20L18.36 -7.56L17.64 -7.56" fill="none" stroke="#000" stroke-width="1.05" stroke-linecap="round" stroke-linejoin="round"/>
<path transform="translate(484.47 470.90)" d="M1.80 -7.56L5.76 -7.56L3.60 -4.68L4.68 -4.68L5.40 -4.32L5.76 -3.96L6.12 -2.88L6.12 -2.16L5.76 -1.08L5.04 -0.36L3.96 0.00L2.88 0.00L1.80 -0.36L1.44 -0.72L1.08 -1.44M10.44 -7.56L9.36 -7.20L8.64 -6.12L8.28 -4.32L8.28 -3.24L8.64 -1.44L9.36 -0.36L10.44 0.00L11.16 0.00L12.24 -0.36L12.96 -1.44L13.32 -3.24L13.32 -4.32L12.96 -6.12L12.24 -7.20L11.16 -7.56L10.44 -7.56M17.64 -7.56L16.56 -7.20L15.84 -6.12L15.48 -4.32L15.48 -3.24L15.84 -1.44L16.56 -0.36L17.64 0.00L18.36 0.00L19.44 -0.36L20.16 -1.44L20.52 -3.24L20.52 -4.32L20.16 -6.12L19.44 -7.20L18.36 -7.56L17.64 -7.56" fill="none" stroke="#000" stroke-width="1.05" stroke-linecap="round" stroke-linejoin="round"/>
<path transform="translate(547.63 470.90)" d="M4.68 -7.56L1.08 -2.52L6.48 -2.52M4.68 -7.56L4.68 0.00M10.44 -7.56L9.36 -7.20L8.64 -6.12L8.28 -4.32L8.28 -3.24L8.64 -1.44L9.36 -0.36L10.44 0.00L11.16 0.00L12.24 -0.36L12.96 -1.44L13.32 -3.24L13.32 -4.32L12.96 -6.12L12.24 -7.20L11.16 -7.56L10.44 -7.56M17.64 -7.56L16.56 -7.20L15.84 -6.12L15.48 -4.32L15.48 -3.24L15.84 -1.44L16.56 -0.36L17.64 0.00L18.36 0.00L19.44 -0.36L20.16 -1.44L20.52 -3.24L20.52 -4.32L20.16 -6.12L19.44 -7.20L18.36 -7.56L17.64 -7.56" fill="none" stroke="#000" stroke-width="1.05" stroke-linecap="round" stroke-linejoin="round"/>
<path transform="translate(610.80 470.90)" d="M5.40 -7.56L1.80 -7.56L1.44 -4.32L1.80 -4.68L2.88 -5.04L3.96 -5.04L5.04 -4.68L5.76 -3.96L6.12 -2.88L6.12 -2.16L5.76 -1.08L5.04 -0.36L3.96 0.00L2.88 0.00L1.80 -0.36L1.44 -0.72L1.08 -1.44M10.44 -7.56L9.36 -7.20L8.64 -6.12L8.28 -4.32L8.28 -3.24L8.64 -1.44L9.36 -0.36L10.44 0.00L11.16 0.00L12.24 -0.36L12.96 -1.44L13.32 -3.24L13.32 -4.32L12.96 -6.12L12.24 -7.20L11.16 -7.56L10.44 -7.56M17.64 -7.56L16.56 -7.20L15.84 -6.12L15.48 -4.32L15.48 -3.24L15.84 -1.44L16.56 -0.36L17.64 0.00L18.36 0.00L19.44 -0.36L20.16 -1.44L20.52 -3.24L20.52 -4.32L20.16 -6.12L19.44 -7.20L18.36 -7.56L17.64 -7.56" fill="none" stroke="#000" stroke-width="1.05" stroke-linecap="round" stroke-linejoin="round"/>
<path d="M401.6 428.3 L405.6 423.2 L410.2 418.1 L414.7 413.0 L420.4 407.3 L426.0 402.6 L431.7 398.8 L437.4 395.4 L443.1 392.6 L448.7 389.8 L454.4 387.7 L460.1 385.8 L467.8 383.0 L480.7 378.9 L493.5 375.9 L506.4 373.4 L519.2 371.2 L532.0 369.3 L547.8 366.5 L560.7 364.9 L573.5 363.3 L586.4 361.7 L599.2 360.3 L612.0 359.0 L622.0 358.2" fill="none" stroke="#f00" stroke-width="1.12" stroke-linejoin="round" stroke-dasharray="7.4 3.5 1.8 3.5"/>
<path d="M401.3 420.4 L403.1 420.3 L405.3 418.2 L409.0 414.8 L412.7 411.4 L416.3 408.9 L420.4 406.0 L426.0 402.5 L431.7 399.5 L437.4 397.0 L443.1 394.2 L448.7 391.9 L454.4 389.8 L460.1 387.8 L468.0 385.7 L475.3 383.6 L482.7 381.6 L490.0 379.8 L497.4 378.1 L504.7 376.6 L512.3 375.1 L519.7 373.5 L527.0 372.3 L534.4 371.1 L547.8 369.3 L560.7 367.1 L573.5 365.2 L586.4 363.3 L599.2 361.6 L612.0 360.5 L622.0 359.8" fill="none" stroke="#000" stroke-width="1.12" stroke-linejoin="round"/>
<path d="M407.53 412.4V413.3M407.53 416.5V417.6M405.53 412.4h4M405.53 417.6h4M413.85 412.2V413.9M413.85 417.1V419.3M411.85 412.2h4M411.85 419.3h4M420.17 407.3V408.9M420.17 412.1V413.6M418.17 407.3h4M418.17 413.6h4M426.48 405.4V407.4M426.48 410.6V413.0M424.48 405.4h4M424.48 413.0h4M432.80 403.1V405.2M432.80 408.4V410.4M430.80 403.1h4M430.80 410.4h4M439.12 398.3V400.4M439.12 403.6V405.6M437.12 398.3h4M437.12 405.6h4M445.43 403.1V405.2M445.43 408.4V410.4M443.43 403.1h4M443.43 410.4h4M451.75 388.6V400.6M451.75 403.8V415.3M449.75 388.6h4M449.75 415.3h4M458.07 398.9V401.4M458.07 404.6V407.3M456.07 398.9h4M456.07 407.3h4M464.38 371.2V376.0M464.38 379.2V384.3M462.38 371.2h4M462.38 384.3h4M470.70 392.3V395.5M470.70 398.7V402.4M468.70 392.3h4M468.70 402.4h4M477.02 357.1V358.7M477.02 361.9V363.8M475.02 357.1h4M475.02 363.8h4M483.33 377.2V378.5M483.33 381.7V383.0M481.33 377.2h4M481.33 383.0h4M489.65 359.3V362.8M489.65 366.0V369.5M487.65 359.3h4M487.65 369.5h4M495.97 368.3V368.3M495.97 371.5V371.5M493.97 368.3h4M493.97 371.5h4M502.28 371.2V375.0M502.28 378.2V382.4M500.28 371.2h4M500.28 382.4h4M508.60 360.2V360.2M508.60 363.4V363.4M506.60 360.2h4M506.60 363.4h4M514.92 373.6V379.1M514.92 382.3V387.8M512.92 373.6h4M512.92 387.8h4M521.23 356.4V364.5M521.23 367.7V375.3M519.23 356.4h4M519.23 375.3h4M527.55 356.1V356.1M527.55 359.3V359.3M525.55 356.1h4M525.55 359.3h4M533.87 348.1V354.8M533.87 358.0V364.8M531.87 348.1h4M531.87 364.8h4M540.18 323.2V331.3M540.18 334.5V342.1M538.18 323.2h4M538.18 342.1h4M546.50 351.7V353.3M546.50 356.5V358.1M544.50 351.7h4M544.50 358.1h4M552.82 344.3V347.2M552.82 350.4V353.4M550.82 344.3h4M550.82 353.4h4M559.13 357.5V358.2M559.13 361.4V362.0M557.13 357.5h4M557.13 362.0h4M565.45 346.2V348.2M565.45 351.4V353.4M563.45 346.2h4M563.45 353.4h4M571.77 354.0V355.0M571.77 358.2V359.2M569.77 354.0h4M569.77 359.2h4M578.08 341.7V343.3M578.08 346.5V348.3M576.08 341.7h4M576.08 348.3h4M584.40 343.6V347.6M584.40 350.8V354.7M582.40 343.6h4M582.40 354.7h4M590.72 353.4V354.9M590.72 358.1V359.4M588.72 353.4h4M588.72 359.4h4M597.03 322.5V333.7M597.03 336.9V348.3M595.03 322.5h4M595.03 348.3h4M597.03 358.5V360.4M597.03 363.6V365.5M595.03 358.5h4M595.03 365.5h4M609.67 345.9V348.8M609.67 352.0V354.9M607.67 345.9h4M607.67 354.9h4M622.30 343.1V346.7M622.30 349.9V353.4M620.30 343.1h4M620.30 353.4h4" stroke="#00f" stroke-width="1.15" fill="none"/>
<g fill="none" stroke="#00f" stroke-width="1.1"><circle cx="407.53" cy="414.9" r="1.6"/><circle cx="413.85" cy="415.5" r="1.6"/><circle cx="420.17" cy="410.5" r="1.6"/><circle cx="426.48" cy="409.0" r="1.6"/><circle cx="432.80" cy="406.8" r="1.6"/><circle cx="439.12" cy="402.0" r="1.6"/><circle cx="445.43" cy="406.8" r="1.6"/><circle cx="451.75" cy="402.2" r="1.6"/><circle cx="458.07" cy="403.0" r="1.6"/><circle cx="464.38" cy="377.6" r="1.6"/><circle cx="470.70" cy="397.1" r="1.6"/><circle cx="477.02" cy="360.3" r="1.6"/><circle cx="483.33" cy="380.1" r="1.6"/><circle cx="489.65" cy="364.4" r="1.6"/><circle cx="495.97" cy="369.9" r="1.6"/><circle cx="502.28" cy="376.6" r="1.6"/><circle cx="508.60" cy="361.8" r="1.6"/><circle cx="514.92" cy="380.7" r="1.6"/><circle cx="521.23" cy="366.1" r="1.6"/><circle cx="527.55" cy="357.7" r="1.6"/><circle cx="533.87" cy="356.4" r="1.6"/><circle cx="540.18" cy="332.9" r="1.6"/><circle cx="546.50" cy="354.9" r="1.6"/><circle cx="552.82" cy="348.8" r="1.6"/><circle cx="559.13" cy="359.8" r="1.6"/><circle cx="565.45" cy="349.8" r="1.6"/><circle cx="571.77" cy="356.6" r="1.6"/><circle cx="578.08" cy="344.9" r="1.6"/><circle cx="584.40" cy="349.2" r="1.6"/><circle cx="590.72" cy="356.5" r="1.6"/><circle cx="597.03" cy="335.3" r="1.6"/><circle cx="597.03" cy="362.0" r="1.6"/><circle cx="609.67" cy="350.4" r="1.6"/><circle cx="622.30" cy="348.3" r="1.6"/></g>
<path d="M399.02 426.6L401.22 424.4L403.42 426.6L401.22 428.8Z" stroke="#00f" stroke-width="1.1" fill="none" stroke-linejoin="round"/>
<path transform="translate(195.11 266.30)" d="M1.34 -7.04L1.34 0.00M1.34 -7.04L5.70 -7.04M1.34 -3.69L4.02 -3.69M1.34 0.00L5.70 0.00" fill="none" stroke="#000" stroke-width="1.05" stroke-linecap="round" stroke-linejoin="round"/>
<path transform="translate(202.97 270.70)" d="M0.48 -2.40L0.96 -3.12L1.44 -3.36L1.92 -3.36L2.64 -2.88L3.36 -3.36M3.60 -3.36L1.44 1.68" fill="none" stroke="#000" stroke-width="1.05" stroke-linecap="round" stroke-linejoin="round"/>
<path transform="translate(206.71 266.30)" d="M3.69 -8.38L3.02 -7.71L2.35 -6.70L1.68 -5.36L1.34 -3.69L1.34 -2.35L1.68 -0.67L2.35 0.67L3.02 1.68L3.69 2.35M6.52 -7.04L6.52 0.00M6.52 -7.04L8.87 0.00M11.21 -7.04L8.87 0.00M11.21 -7.04L11.21 0.00M13.96 -2.68L17.98 -2.68L17.98 -3.35L17.65 -4.02L17.31 -4.36L16.64 -4.69L15.64 -4.69L14.97 -4.36L14.30 -3.69L13.96 -2.68L13.96 -2.01L14.30 -1.01L14.97 -0.34L15.64 0.00L16.64 0.00L17.31 -0.34L17.98 -1.01M19.96 -7.04L22.64 0.00M25.32 -7.04L22.64 0.00M27.30 -8.38L27.97 -7.71L28.64 -6.70L29.31 -5.36L29.64 -3.69L29.64 -2.35L29.31 -0.67L28.64 0.67L27.97 1.68L27.30 2.35" fill="none" stroke="#000" stroke-width="1.05" stroke-linecap="round" stroke-linejoin="round"/>
<path transform="translate(485.91 266.30)" d="M1.34 -7.04L1.34 0.00M1.34 -7.04L5.70 -7.04M1.34 -3.69L4.02 -3.69M1.34 0.00L5.70 0.00" fill="none" stroke="#000" stroke-width="1.05" stroke-linecap="round" stroke-linejoin="round"/>
<path transform="translate(493.77 270.70)" d="M0.48 -2.40L0.96 -3.12L1.44 -3.36L1.92 -3.36L2.64 -2.88L3.36 -3.36M3.60 -3.36L1.44 1.68" fill="none" stroke="#000" stroke-width="1.05" stroke-linecap="round" stroke-linejoin="round"/>
<path transform="translate(497.51 266.30)" d="M3.69 -8.38L3.02 -7.71L2.35 -6.70L1.68 -5.36L1.34 -3.69L1.34 -2.35L1.68 -0.67L2.35 0.67L3.02 1.68L3.69 2.35M6.52 -7.04L6.52 0.00M6.52 -7.04L8.87 0.00M11.21 -7.04L8.87 0.00M11.21 -7.04L11.21 0.00M13.96 -2.68L17.98 -2.68L17.98 -3.35L17.65 -4.02L17.31 -4.36L16.64 -4.69L15.64 -4.69L14.97 -4.36L14.30 -3.69L13.96 -2.68L13.96 -2.01L14.30 -1.01L14.97 -0.34L15.64 0.00L16.64 0.00L17.31 -0.34L17.98 -1.01M19.96 -7.04L22.64 0.00M25.32 -7.04L22.64 0.00M27.30 -8.38L27.97 -7.71L28.64 -6.70L29.31 -5.36L29.64 -3.69L29.64 -2.35L29.31 -0.67L28.64 0.67L27.97 1.68L27.30 2.35" fill="none" stroke="#000" stroke-width="1.05" stroke-linecap="round" stroke-linejoin="round"/>
<path transform="translate(195.11 481.80)" d="M1.34 -7.04L1.34 0.00M1.34 -7.04L5.70 -7.04M1.34 -3.69L4.02 -3.69M1.34 0.00L5.70 0.00" fill="none" stroke="#000" stroke-width="1.05" stroke-linecap="round" stroke-linejoin="round"/>
<path transform="translate(202.97 486.20)" d="M0.48 -2.40L0.96 -3.12L1.44 -3.36L1.92 -3.36L2.64 -2.88L3.36 -3.36M3.60 -3.36L1.44 1.68" fill="none" stroke="#000" stroke-width="1.05" stroke-linecap="round" stroke-linejoin="round"/>
<path transform="translate(206.71 481.80)" d="M3.69 -8.38L3.02 -7.71L2.35 -6.70L1.68 -5.36L1.34 -3.69L1.34 -2.35L1.68 -0.67L2.35 0.67L3.02 1.68L3.69 2.35M6.52 -7.04L6.52 0.00M6.52 -7.04L8.87 0.00M11.21 -7.04L8.87 0.00M11.21 -7.04L11.21 0.00M13.96 -2.68L17.98 -2.68L17.98 -3.35L17.65 -4.02L17.31 -4.36L16.64 -4.69L15.64 -4.69L14.97 -4.36L14.30 -3.69L13.96 -2.68L13.96 -2.01L14.30 -1.01L14.97 -0.34L15.64 0.00L16.64 0.00L17.31 -0.34L17.98 -1.01M19.96 -7.04L22.64 0.00M25.32 -7.04L22.64 0.00M27.30 -8.38L27.97 -7.71L28.64 -6.70L29.31 -5.36L29.64 -3.69L29.64 -2.35L29.31 -0.67L28.64 0.67L27.97 1.68L27.30 2.35" fill="none" stroke="#000" stroke-width="1.05" stroke-linecap="round" stroke-linejoin="round"/>
<path transform="translate(485.91 481.80)" d="M1.34 -7.04L1.34 0.00M1.34 -7.04L5.70 -7.04M1.34 -3.69L4.02 -3.69M1.34 0.00L5.70 0.00" fill="none" stroke="#000" stroke-width="1.05" stroke-linecap="round" stroke-linejoin="round"/>
<path transform="translate(493.77 486.20)" d="M0.48 -2.40L0.96 -3.12L1.44 -3.36L1.92 -3.36L2.64 -2.88L3.36 -3.36M3.60 -3.36L1.44 1.68" fill="none" stroke="#000" stroke-width="1.05" stroke-linecap="round" stroke-linejoin="round"/>
<path transform="translate(497.51 481.80)" d="M3.69 -8.38L3.02 -7.71L2.35 -6.70L1.68 -5.36L1.34 -3.69L1.34 -2.35L1.68 -0.67L2.35 0.67L3.02 1.68L3.69 2.35M6.52 -7.04L6.52 0.00M6.52 -7.04L8.87 0.00M11.21 -7.04L8.87 0.00M11.21 -7.04L11.21 0.00M13.96 -2.68L17.98 -2.68L17.98 -3.35L17.65 -4.02L17.31 -4.36L16.64 -4.69L15.64 -4.69L14.97 -4.36L14.30 -3.69L13.96 -2.68L13.96 -2.01L14.30 -1.01L14.97 -0.34L15.64 0.00L16.64 0.00L17.31 -0.34L17.98 -1.01M19.96 -7.04L22.64 0.00M25.32 -7.04L22.64 0.00M27.30 -8.38L27.97 -7.71L28.64 -6.70L29.31 -5.36L29.64 -3.69L29.64 -2.35L29.31 -0.67L28.64 0.67L27.97 1.68L27.30 2.35" fill="none" stroke="#000" stroke-width="1.05" stroke-linecap="round" stroke-linejoin="round"/>
<path transform="translate(76.60 218.40) rotate(-90) translate(-0.88 0)" d="M0.88 -3.01L0.88 1.50M0.88 -2.36L1.32 -2.79L1.76 -3.01L2.42 -3.01L2.86 -2.79L3.30 -2.36L3.52 -1.72L3.52 -1.29L3.30 -0.65L2.86 -0.21L2.42 0.00L1.76 0.00L1.32 -0.21L0.88 -0.65" fill="none" stroke="#000" stroke-width="1.05" stroke-linecap="round" stroke-linejoin="round"/>
<path transform="translate(72.40 214.10) rotate(-90) translate(-1.30 0)" d="M1.30 -7.56L1.30 0.00M1.30 -7.56L5.53 -7.56M1.30 -3.96L3.90 -3.96M1.30 0.00L5.53 0.00" fill="none" stroke="#000" stroke-width="1.05" stroke-linecap="round" stroke-linejoin="round"/>
<path transform="translate(76.80 207.50) rotate(-90) translate(-0.54 0)" d="M1.62 -4.62L1.08 -4.40L0.72 -3.74L0.54 -2.64L0.54 -1.98L0.72 -0.88L1.08 -0.22L1.62 0.00L1.98 0.00L2.52 -0.22L2.88 -0.88L3.06 -1.98L3.06 -2.64L2.88 -3.74L2.52 -4.40L1.98 -4.62L1.62 -4.62M6.82 -3.96L6.82 0.00M5.20 -1.98L8.44 -1.98" fill="none" stroke="#000" stroke-width="1.05" stroke-linecap="round" stroke-linejoin="round"/>
<path transform="translate(72.40 198.30) rotate(-90) translate(-1.36 0)" d="M3.74 -9.00L3.06 -8.28L2.38 -7.20L1.70 -5.76L1.36 -3.96L1.36 -2.52L1.70 -0.72L2.38 0.72L3.06 1.80L3.74 2.52M7.14 -6.12L7.82 -6.48L8.84 -7.56L8.84 0.00M16.65 -9.00L10.53 2.52M19.23 -5.76L19.23 -6.12L19.57 -6.84L19.91 -7.20L20.59 -7.56L21.95 -7.56L22.63 -7.20L22.97 -6.84L23.31 -6.12L23.31 -5.40L22.97 -4.68L22.29 -3.60L18.89 0.00L23.65 0.00M26.18 -9.00L26.86 -8.28L27.54 -7.20L28.22 -5.76L28.56 -3.96L28.56 -2.52L28.22 -0.72L27.54 0.72L26.86 1.80L26.18 2.52" fill="none" stroke="#000" stroke-width="1.05" stroke-linecap="round" stroke-linejoin="round"/>
<path transform="translate(72.40 162.00) rotate(-90) translate(-1.36 0)" d="M3.74 -9.00L3.06 -8.28L2.38 -7.20L1.70 -5.76L1.36 -3.96L1.36 -2.52L1.70 -0.72L2.38 0.72L3.06 1.80L3.74 2.52M7.11 -6.12L7.79 -6.48L8.81 -7.56L8.81 0.00M12.84 -7.56L11.82 -7.20L11.14 -6.12L10.80 -4.32L10.80 -3.24L11.14 -1.44L11.82 -0.36L12.84 0.00L13.52 0.00L14.54 -0.36L15.22 -1.44L15.56 -3.24L15.56 -4.32L15.22 -6.12L14.54 -7.20L13.52 -7.56L12.84 -7.56" fill="none" stroke="#000" stroke-width="1.05" stroke-linecap="round" stroke-linejoin="round"/>
<path transform="translate(67.40 145.30) rotate(-90) translate(-1.27 0)" d="M1.27 -1.98L5.06 -1.98M6.91 -4.62L9.44 -4.62L8.06 -2.86L8.75 -2.86L9.21 -2.64L9.44 -2.42L9.67 -1.76L9.67 -1.32L9.44 -0.66L8.98 -0.22L8.29 0.00L7.60 0.00L6.91 -0.22L6.68 -0.44L6.45 -0.88" fill="none" stroke="#000" stroke-width="1.05" stroke-linecap="round" stroke-linejoin="round"/>
<path transform="translate(72.40 136.90) rotate(-90) translate(-0.68 0)" d="M6.80 -9.00L0.68 2.52M10.60 -5.04L10.60 0.00M10.60 -3.60L11.62 -4.68L12.30 -5.04L13.32 -5.04L14.00 -4.68L14.34 -3.60L14.34 0.00M14.34 -3.60L15.36 -4.68L16.04 -5.04L17.06 -5.04L17.74 -4.68L18.08 -3.60L18.08 0.00" fill="none" stroke="#000" stroke-width="1.05" stroke-linecap="round" stroke-linejoin="round"/>
<path transform="translate(76.80 117.50) rotate(-90) translate(-0.42 0)" d="M0.42 -2.42L0.84 -2.86L1.47 -3.08L4.20 -3.08M1.89 -3.08L1.26 0.00M3.15 -3.08L3.36 -0.66L3.57 -0.22L3.78 0.00M7.03 -3.96L7.03 0.00M5.14 -1.98L8.92 -1.98" fill="none" stroke="#000" stroke-width="1.05" stroke-linecap="round" stroke-linejoin="round"/>
<path transform="translate(72.40 107.50) rotate(-90) translate(-1.02 0)" d="M1.02 -9.00L1.70 -8.28L2.38 -7.20L3.06 -5.76L3.40 -3.96L3.40 -2.52L3.06 -0.72L2.38 0.72L1.70 1.80L1.02 2.52" fill="none" stroke="#000" stroke-width="1.05" stroke-linecap="round" stroke-linejoin="round"/>
<path transform="translate(370.00 218.40) rotate(-90) translate(-0.88 0)" d="M0.88 -3.01L0.88 1.50M0.88 -2.36L1.32 -2.79L1.76 -3.01L2.42 -3.01L2.86 -2.79L3.30 -2.36L3.52 -1.72L3.52 -1.29L3.30 -0.65L2.86 -0.21L2.42 0.00L1.76 0.00L1.32 -0.21L0.88 -0.65" fill="none" stroke="#000" stroke-width="1.05" stroke-linecap="round" stroke-linejoin="round"/>
<path transform="translate(365.80 214.10) rotate(-90) translate(-1.30 0)" d="M1.30 -7.56L1.30 0.00M1.30 -7.56L5.53 -7.56M1.30 -3.96L3.90 -3.96M1.30 0.00L5.53 0.00" fill="none" stroke="#000" stroke-width="1.05" stroke-linecap="round" stroke-linejoin="round"/>
<path transform="translate(370.20 207.50) rotate(-90) translate(-0.54 0)" d="M1.62 -4.62L1.08 -4.40L0.72 -3.74L0.54 -2.64L0.54 -1.98L0.72 -0.88L1.08 -0.22L1.62 0.00L1.98 0.00L2.52 -0.22L2.88 -0.88L3.06 -1.98L3.06 -2.64L2.88 -3.74L2.52 -4.40L1.98 -4.62L1.62 -4.62M6.82 -3.96L6.82 0.00M5.20 -1.98L8.44 -1.98" fill="none" stroke="#000" stroke-width="1.05" stroke-linecap="round" stroke-linejoin="round"/>
<path transform="translate(365.80 198.30) rotate(-90) translate(-1.36 0)" d="M3.74 -9.00L3.06 -8.28L2.38 -7.20L1.70 -5.76L1.36 -3.96L1.36 -2.52L1.70 -0.72L2.38 0.72L3.06 1.80L3.74 2.52M7.14 -6.12L7.82 -6.48L8.84 -7.56L8.84 0.00M16.65 -9.00L10.53 2.52M19.23 -5.76L19.23 -6.12L19.57 -6.84L19.91 -7.20L20.59 -7.56L21.95 -7.56L22.63 -7.20L22.97 -6.84L23.31 -6.12L23.31 -5.40L22.97 -4.68L22.29 -3.60L18.89 0.00L23.65 0.00M26.18 -9.00L26.86 -8.28L27.54 -7.20L28.22 -5.76L28.56 -3.96L28.56 -2.52L28.22 -0.72L27.54 0.72L26.86 1.80L26.18 2.52" fill="none" stroke="#000" stroke-width="1.05" stroke-linecap="round" stroke-linejoin="round"/>
<path transform="translate(365.80 162.00) rotate(-90) translate(-1.36 0)" d="M3.74 -9.00L3.06 -8.28L2.38 -7.20L1.70 -5.76L1.36 -3.96L1.36 -2.52L1.70 -0.72L2.38 0.72L3.06 1.80L3.74 2.52M7.11 -6.12L7.79 -6.48L8.81 -7.56L8.81 0.00M12.84 -7.56L11.82 -7.20L11.14 -6.12L10.80 -4.32L10.80 -3.24L11.14 -1.44L11.82 -0.36L12.84 0.00L13.52 0.00L14.54 -0.36L15.22 -1.44L15.56 -3.24L15.56 -4.32L15.22 -6.12L14.54 -7.20L13.52 -7.56L12.84 -7.56" fill="none" stroke="#000" stroke-width="1.05" stroke-linecap="round" stroke-linejoin="round"/>
<path transform="translate(360.80 145.30) rotate(-90) translate(-1.27 0)" d="M1.27 -1.98L5.06 -1.98M6.91 -4.62L9.44 -4.62L8.06 -2.86L8.75 -2.86L9.21 -2.64L9.44 -2.42L9.67 -1.76L9.67 -1.32L9.44 -0.66L8.98 -0.22L8.29 0.00L7.60 0.00L6.91 -0.22L6.68 -0.44L6.45 -0.88" fill="none" stroke="#000" stroke-width="1.05" stroke-linecap="round" stroke-linejoin="round"/>
<path transform="translate(365.80 136.90) rotate(-90) translate(-0.68 0)" d="M6.80 -9.00L0.68 2.52M10.60 -5.04L10.60 0.00M10.60 -3.60L11.62 -4.68L12.30 -5.04L13.32 -5.04L14.00 -4.68L14.34 -3.60L14.34 0.00M14.34 -3.60L15.36 -4.68L16.04 -5.04L17.06 -5.04L17.74 -4.68L18.08 -3.60L18.08 0.00" fill="none" stroke="#000" stroke-width="1.05" stroke-linecap="round" stroke-linejoin="round"/>
<path transform="translate(370.20 117.50) rotate(-90) translate(-0.42 0)" d="M0.42 -2.42L0.84 -2.86L1.47 -3.08L4.20 -3.08M1.89 -3.08L1.26 0.00M3.15 -3.08L3.36 -0.66L3.57 -0.22L3.78 0.00M7.03 -3.96L7.03 0.00M5.14 -1.98L8.92 -1.98" fill="none" stroke="#000" stroke-width="1.05" stroke-linecap="round" stroke-linejoin="round"/>
<path transform="translate(365.80 107.50) rotate(-90) translate(-1.02 0)" d="M1.02 -9.00L1.70 -8.28L2.38 -7.20L3.06 -5.76L3.40 -3.96L3.40 -2.52L3.06 -0.72L2.38 0.72L1.70 1.80L1.02 2.52" fill="none" stroke="#000" stroke-width="1.05" stroke-linecap="round" stroke-linejoin="round"/>
<path transform="translate(85.30 434.30) rotate(-90) translate(-1.30 0)" d="M1.30 -7.56L1.30 0.00M1.30 -7.56L5.53 -7.56M1.30 -3.96L3.90 -3.96M1.30 0.00L5.53 0.00" fill="none" stroke="#000" stroke-width="1.05" stroke-linecap="round" stroke-linejoin="round"/>
<path transform="translate(89.70 427.70) rotate(-90) translate(-0.54 0)" d="M1.62 -4.62L1.08 -4.40L0.72 -3.74L0.54 -2.64L0.54 -1.98L0.72 -0.88L1.08 -0.22L1.62 0.00L1.98 0.00L2.52 -0.22L2.88 -0.88L3.06 -1.98L3.06 -2.64L2.88 -3.74L2.52 -4.40L1.98 -4.62L1.62 -4.62M6.82 -3.96L6.82 0.00M5.20 -1.98L8.44 -1.98" fill="none" stroke="#000" stroke-width="1.05" stroke-linecap="round" stroke-linejoin="round"/>
<path transform="translate(85.30 418.50) rotate(-90) translate(-1.36 0)" d="M3.74 -9.00L3.06 -8.28L2.38 -7.20L1.70 -5.76L1.36 -3.96L1.36 -2.52L1.70 -0.72L2.38 0.72L3.06 1.80L3.74 2.52M6.76 -7.56L10.50 -7.56L8.46 -4.68L9.48 -4.68L10.16 -4.32L10.50 -3.96L10.84 -2.88L10.84 -2.16L10.50 -1.08L9.82 -0.36L8.80 0.00L7.78 0.00L6.76 -0.36L6.42 -0.72L6.08 -1.44M19.08 -9.00L12.96 2.52M21.59 -5.76L21.59 -6.12L21.93 -6.84L22.27 -7.20L22.95 -7.56L24.31 -7.56L24.99 -7.20L25.33 -6.84L25.67 -6.12L25.67 -5.40L25.33 -4.68L24.65 -3.60L21.25 0.00L26.01 0.00M28.48 -9.00L29.16 -8.28L29.84 -7.20L30.52 -5.76L30.86 -3.96L30.86 -2.52L30.52 -0.72L29.84 0.72L29.16 1.80L28.48 2.52" fill="none" stroke="#000" stroke-width="1.05" stroke-linecap="round" stroke-linejoin="round"/>
<path transform="translate(85.30 379.90) rotate(-90) translate(-1.36 0)" d="M3.74 -9.00L3.06 -8.28L2.38 -7.20L1.70 -5.76L1.36 -3.96L1.36 -2.52L1.70 -0.72L2.38 0.72L3.06 1.80L3.74 2.52M7.11 -6.12L7.79 -6.48L8.81 -7.56L8.81 0.00M12.84 -7.56L11.82 -7.20L11.14 -6.12L10.80 -4.32L10.80 -3.24L11.14 -1.44L11.82 -0.36L12.84 0.00L13.52 0.00L14.54 -0.36L15.22 -1.44L15.56 -3.24L15.56 -4.32L15.22 -6.12L14.54 -7.20L13.52 -7.56L12.84 -7.56" fill="none" stroke="#000" stroke-width="1.05" stroke-linecap="round" stroke-linejoin="round"/>
<path transform="translate(80.30 363.20) rotate(-90) translate(-1.27 0)" d="M1.27 -1.98L5.06 -1.98M6.91 -4.62L9.44 -4.62L8.06 -2.86L8.75 -2.86L9.21 -2.64L9.44 -2.42L9.67 -1.76L9.67 -1.32L9.44 -0.66L8.98 -0.22L8.29 0.00L7.60 0.00L6.91 -0.22L6.68 -0.44L6.45 -0.88" fill="none" stroke="#000" stroke-width="1.05" stroke-linecap="round" stroke-linejoin="round"/>
<path transform="translate(85.30 354.80) rotate(-90) translate(-0.68 0)" d="M6.80 -9.00L0.68 2.52M10.60 -5.04L10.60 0.00M10.60 -3.60L11.62 -4.68L12.30 -5.04L13.32 -5.04L14.00 -4.68L14.34 -3.60L14.34 0.00M14.34 -3.60L15.36 -4.68L16.04 -5.04L17.06 -5.04L17.74 -4.68L18.08 -3.60L18.08 0.00" fill="none" stroke="#000" stroke-width="1.05" stroke-linecap="round" stroke-linejoin="round"/>
<path transform="translate(89.70 335.40) rotate(-90) translate(-0.42 0)" d="M0.42 -2.42L0.84 -2.86L1.47 -3.08L4.20 -3.08M1.89 -3.08L1.26 0.00M3.15 -3.08L3.36 -0.66L3.57 -0.22L3.78 0.00M7.03 -3.96L7.03 0.00M5.14 -1.98L8.92 -1.98" fill="none" stroke="#000" stroke-width="1.05" stroke-linecap="round" stroke-linejoin="round"/>
<path transform="translate(85.30 325.40) rotate(-90) translate(-1.02 0)" d="M1.02 -9.00L1.70 -8.28L2.38 -7.20L3.06 -5.76L3.40 -3.96L3.40 -2.52L3.06 -0.72L2.38 0.72L1.70 1.80L1.02 2.52" fill="none" stroke="#000" stroke-width="1.05" stroke-linecap="round" stroke-linejoin="round"/>
<path transform="translate(357.80 434.30) rotate(-90) translate(-1.30 0)" d="M1.30 -7.56L1.30 0.00M1.30 -7.56L5.53 -7.56M1.30 -3.96L3.90 -3.96M1.30 0.00L5.53 0.00" fill="none" stroke="#000" stroke-width="1.05" stroke-linecap="round" stroke-linejoin="round"/>
<path transform="translate(362.20 427.70) rotate(-90) translate(-0.54 0)" d="M1.62 -4.62L1.08 -4.40L0.72 -3.74L0.54 -2.64L0.54 -1.98L0.72 -0.88L1.08 -0.22L1.62 0.00L1.98 0.00L2.52 -0.22L2.88 -0.88L3.06 -1.98L3.06 -2.64L2.88 -3.74L2.52 -4.40L1.98 -4.62L1.62 -4.62M6.82 -3.96L6.82 0.00M5.20 -1.98L8.44 -1.98" fill="none" stroke="#000" stroke-width="1.05" stroke-linecap="round" stroke-linejoin="round"/>
<path transform="translate(357.80 418.50) rotate(-90) translate(-1.36 0)" d="M3.74 -9.00L3.06 -8.28L2.38 -7.20L1.70 -5.76L1.36 -3.96L1.36 -2.52L1.70 -0.72L2.38 0.72L3.06 1.80L3.74 2.52M6.76 -7.56L10.50 -7.56L8.46 -4.68L9.48 -4.68L10.16 -4.32L10.50 -3.96L10.84 -2.88L10.84 -2.16L10.50 -1.08L9.82 -0.36L8.80 0.00L7.78 0.00L6.76 -0.36L6.42 -0.72L6.08 -1.44M19.08 -9.00L12.96 2.52M21.59 -5.76L21.59 -6.12L21.93 -6.84L22.27 -7.20L22.95 -7.56L24.31 -7.56L24.99 -7.20L25.33 -6.84L25.67 -6.12L25.67 -5.40L25.33 -4.68L24.65 -3.60L21.25 0.00L26.01 0.00M28.48 -9.00L29.16 -8.28L29.84 -7.20L30.52 -5.76L30.86 -3.96L30.86 -2.52L30.52 -0.72L29.84 0.72L29.16 1.80L28.48 2.52" fill="none" stroke="#000" stroke-width="1.05" stroke-linecap="round" stroke-linejoin="round"/>
<path transform="translate(357.80 379.90) rotate(-90) translate(-1.36 0)" d="M3.74 -9.00L3.06 -8.28L2.38 -7.20L1.70 -5.76L1.36 -3.96L1.36 -2.52L1.70 -0.72L2.38 0.72L3.06 1.80L3.74 2.52M7.11 -6.12L7.79 -6.48L8.81 -7.56L8.81 0.00M12.84 -7.56L11.82 -7.20L11.14 -6.12L10.80 -4.32L10.80 -3.24L11.14 -1.44L11.82 -0.36L12.84 0.00L13.52 0.00L14.54 -0.36L15.22 -1.44L15.56 -3.24L15.56 -4.32L15.22 -6.12L14.54 -7.20L13.52 -7.56L12.84 -7.56" fill="none" stroke="#000" stroke-width="1.05" stroke-linecap="round" stroke-linejoin="round"/>
<path transform="translate(352.80 363.20) rotate(-90) translate(-1.27 0)" d="M1.27 -1.98L5.06 -1.98M6.91 -4.62L9.44 -4.62L8.06 -2.86L8.75 -2.86L9.21 -2.64L9.44 -2.42L9.67 -1.76L9.67 -1.32L9.44 -0.66L8.98 -0.22L8.29 0.00L7.60 0.00L6.91 -0.22L6.68 -0.44L6.45 -0.88" fill="none" stroke="#000" stroke-width="1.05" stroke-linecap="round" stroke-linejoin="round"/>
<path transform="translate(357.80 354.80) rotate(-90) translate(-0.68 0)" d="M6.80 -9.00L0.68 2.52M10.60 -5.04L10.60 0.00M10.60 -3.60L11.62 -4.68L12.30 -5.04L13.32 -5.04L14.00 -4.68L14.34 -3.60L14.34 0.00M14.34 -3.60L15.36 -4.68L16.04 -5.04L17.06 -5.04L17.74 -4.68L18.08 -3.60L18.08 0.00" fill="none" stroke="#000" stroke-width="1.05" stroke-linecap="round" stroke-linejoin="round"/>
<path transform="translate(362.20 335.40) rotate(-90) translate(-0.42 0)" d="M0.42 -2.42L0.84 -2.86L1.47 -3.08L4.20 -3.08M1.89 -3.08L1.26 0.00M3.15 -3.08L3.36 -0.66L3.57 -0.22L3.78 0.00M7.03 -3.96L7.03 0.00M5.14 -1.98L8.92 -1.98" fill="none" stroke="#000" stroke-width="1.05" stroke-linecap="round" stroke-linejoin="round"/>
<path transform="translate(357.80 325.40) rotate(-90) translate(-1.02 0)" d="M1.02 -9.00L1.70 -8.28L2.38 -7.20L3.06 -5.76L3.40 -3.96L3.40 -2.52L3.06 -0.72L2.38 0.72L1.70 1.80L1.02 2.52" fill="none" stroke="#000" stroke-width="1.05" stroke-linecap="round" stroke-linejoin="round"/>
<path transform="translate(140.80 104.50)" d="M1.60 -8.40L1.60 0.00M4.60 -5.60L4.60 0.00M4.60 -4.00L5.80 -5.20L6.60 -5.60L7.80 -5.60L8.60 -5.20L9.00 -4.00L9.00 0.00M9.00 -4.00L10.20 -5.20L11.00 -5.60L12.20 -5.60L13.00 -5.20L13.40 -4.00L13.40 0.00" fill="none" stroke="#f00" stroke-width="1.05" stroke-linecap="round" stroke-linejoin="round"/>
<path transform="translate(163.64 108.90)" d="M0.96 -3.36L0.96 1.68M0.96 -2.64L1.44 -3.12L1.92 -3.36L2.64 -3.36L3.12 -3.12L3.60 -2.64L3.84 -1.92L3.84 -1.44L3.60 -0.72L3.12 -0.24L2.64 0.00L1.92 0.00L1.44 -0.24L0.96 -0.72" fill="none" stroke="#f00" stroke-width="1.05" stroke-linecap="round" stroke-linejoin="round"/>
<path transform="translate(167.50 104.50)" d="M1.60 -8.40L1.60 0.00M1.60 -8.40L6.80 -8.40M1.60 -4.40L4.80 -4.40M1.60 0.00L6.80 0.00" fill="none" stroke="#f00" stroke-width="1.05" stroke-linecap="round" stroke-linejoin="round"/>
<path transform="translate(175.59 109.50)" d="M2.43 -5.67L1.62 -5.40L1.08 -4.59L0.81 -3.24L0.81 -2.43L1.08 -1.08L1.62 -0.27L2.43 0.00L2.97 0.00L3.78 -0.27L4.32 -1.08L4.59 -2.43L4.59 -3.24L4.32 -4.59L3.78 -5.40L2.97 -5.67L2.43 -5.67M8.28 -4.86L8.28 0.00M5.85 -2.43L10.71 -2.43" fill="none" stroke="#f00" stroke-width="1.05" stroke-linecap="round" stroke-linejoin="round"/>
<path transform="translate(185.90 104.50)" d="M4.40 -10.00L3.60 -9.20L2.80 -8.00L2.00 -6.40L1.60 -4.40L1.60 -2.80L2.00 -0.80L2.80 0.80L3.60 2.00L4.40 2.80M8.28 -6.80L9.08 -7.20L10.28 -8.40L10.28 0.00M19.35 -10.00L12.15 2.80M22.19 -6.40L22.19 -6.80L22.59 -7.60L22.99 -8.00L23.79 -8.40L25.39 -8.40L26.19 -8.00L26.59 -7.60L26.99 -6.80L26.99 -6.00L26.59 -5.20L25.79 -4.00L21.79 0.00L27.39 0.00M30.20 -10.00L31.00 -9.20L31.80 -8.00L32.60 -6.40L33.00 -4.40L33.00 -2.80L32.60 -0.80L31.80 0.80L31.00 2.00L30.20 2.80" fill="none" stroke="#f00" stroke-width="1.05" stroke-linecap="round" stroke-linejoin="round"/>
<path transform="translate(466.80 108.20)" d="M1.60 -8.40L1.60 0.00M1.60 -8.40L5.20 -8.40L6.40 -8.00L6.80 -7.60L7.20 -6.80L7.20 -6.00L6.80 -5.20L6.40 -4.80L5.20 -4.40L1.60 -4.40M4.40 -4.40L7.20 0.00M9.70 -3.20L14.50 -3.20L14.50 -4.00L14.10 -4.80L13.70 -5.20L12.90 -5.60L11.70 -5.60L10.90 -5.20L10.10 -4.40L9.70 -3.20L9.70 -2.40L10.10 -1.20L10.90 -0.40L11.70 0.00L12.90 0.00L13.70 -0.40L14.50 -1.20" fill="none" stroke="#f00" stroke-width="1.05" stroke-linecap="round" stroke-linejoin="round"/>
<path transform="translate(490.54 112.60)" d="M0.96 -3.36L0.96 1.68M0.96 -2.64L1.44 -3.12L1.92 -3.36L2.64 -3.36L3.12 -3.12L3.60 -2.64L3.84 -1.92L3.84 -1.44L3.60 -0.72L3.12 -0.24L2.64 0.00L1.92 0.00L1.44 -0.24L0.96 -0.72" fill="none" stroke="#f00" stroke-width="1.05" stroke-linecap="round" stroke-linejoin="round"/>
<path transform="translate(494.50 108.20)" d="M1.60 -8.40L1.60 0.00M1.60 -8.40L6.80 -8.40M1.60 -4.40L4.80 -4.40M1.60 0.00L6.80 0.00" fill="none" stroke="#f00" stroke-width="1.05" stroke-linecap="round" stroke-linejoin="round"/>
<path transform="translate(502.69 113.20)" d="M2.43 -5.67L1.62 -5.40L1.08 -4.59L0.81 -3.24L0.81 -2.43L1.08 -1.08L1.62 -0.27L2.43 0.00L2.97 0.00L3.78 -0.27L4.32 -1.08L4.59 -2.43L4.59 -3.24L4.32 -4.59L3.78 -5.40L2.97 -5.67L2.43 -5.67M8.28 -4.86L8.28 0.00M5.85 -2.43L10.71 -2.43" fill="none" stroke="#f00" stroke-width="1.05" stroke-linecap="round" stroke-linejoin="round"/>
<path transform="translate(513.20 108.20)" d="M4.40 -10.00L3.60 -9.20L2.80 -8.00L2.00 -6.40L1.60 -4.40L1.60 -2.80L2.00 -0.80L2.80 0.80L3.60 2.00L4.40 2.80M8.34 -6.80L9.14 -7.20L10.34 -8.40L10.34 0.00M19.47 -10.00L12.27 2.80M22.41 -6.40L22.41 -6.80L22.81 -7.60L23.21 -8.00L24.01 -8.40L25.61 -8.40L26.41 -8.00L26.81 -7.60L27.21 -6.80L27.21 -6.00L26.81 -5.20L26.01 -4.00L22.01 0.00L27.61 0.00M30.50 -10.00L31.30 -9.20L32.10 -8.00L32.90 -6.40L33.30 -4.40L33.30 -2.80L32.90 -0.80L32.10 0.80L31.30 2.00L30.50 2.80" fill="none" stroke="#f00" stroke-width="1.05" stroke-linecap="round" stroke-linejoin="round"/>
<path transform="translate(158.80 329.60)" d="M1.60 -8.40L1.60 0.00M4.90 -5.60L4.90 0.00M4.90 -4.00L6.10 -5.20L6.90 -5.60L8.10 -5.60L8.90 -5.20L9.30 -4.00L9.30 0.00M9.30 -4.00L10.50 -5.20L11.30 -5.60L12.50 -5.60L13.30 -5.20L13.70 -4.00L13.70 0.00" fill="none" stroke="#f00" stroke-width="1.05" stroke-linecap="round" stroke-linejoin="round"/>
<path transform="translate(180.90 329.60)" d="M1.60 -8.40L1.60 0.00M1.60 -8.40L6.80 -8.40M1.60 -4.40L4.80 -4.40M1.60 0.00L6.80 0.00" fill="none" stroke="#f00" stroke-width="1.05" stroke-linecap="round" stroke-linejoin="round"/>
<path transform="translate(188.99 334.60)" d="M2.43 -5.67L1.62 -5.40L1.08 -4.59L0.81 -3.24L0.81 -2.43L1.08 -1.08L1.62 -0.27L2.43 0.00L2.97 0.00L3.78 -0.27L4.32 -1.08L4.59 -2.43L4.59 -3.24L4.32 -4.59L3.78 -5.40L2.97 -5.67L2.43 -5.67M8.28 -4.86L8.28 0.00M5.85 -2.43L10.71 -2.43" fill="none" stroke="#f00" stroke-width="1.05" stroke-linecap="round" stroke-linejoin="round"/>
<path transform="translate(200.00 329.60)" d="M4.40 -10.00L3.60 -9.20L2.80 -8.00L2.00 -6.40L1.60 -4.40L1.60 -2.80L2.00 -0.80L2.80 0.80L3.60 2.00L4.40 2.80M7.64 -8.40L12.04 -8.40L9.64 -5.20L10.84 -5.20L11.64 -4.80L12.04 -4.40L12.44 -3.20L12.44 -2.40L12.04 -1.20L11.24 -0.40L10.04 0.00L8.84 0.00L7.64 -0.40L7.24 -0.80L6.84 -1.60M21.69 -10.00L14.49 2.80M24.15 -6.40L24.15 -6.80L24.55 -7.60L24.95 -8.00L25.75 -8.40L27.35 -8.40L28.15 -8.00L28.55 -7.60L28.95 -6.80L28.95 -6.00L28.55 -5.20L27.75 -4.00L23.75 0.00L29.35 0.00M31.80 -10.00L32.60 -9.20L33.40 -8.00L34.20 -6.40L34.60 -4.40L34.60 -2.80L34.20 -0.80L33.40 0.80L32.60 2.00L31.80 2.80" fill="none" stroke="#f00" stroke-width="1.05" stroke-linecap="round" stroke-linejoin="round"/>
<path transform="translate(433.00 324.00)" d="M1.60 -8.40L1.60 0.00M1.60 -8.40L5.20 -8.40L6.40 -8.00L6.80 -7.60L7.20 -6.80L7.20 -6.00L6.80 -5.20L6.40 -4.80L5.20 -4.40L1.60 -4.40M4.40 -4.40L7.20 0.00M9.80 -3.20L14.60 -3.20L14.60 -4.00L14.20 -4.80L13.80 -5.20L13.00 -5.60L11.80 -5.60L11.00 -5.20L10.20 -4.40L9.80 -3.20L9.80 -2.40L10.20 -1.20L11.00 -0.40L11.80 0.00L13.00 0.00L13.80 -0.40L14.60 -1.20" fill="none" stroke="#f00" stroke-width="1.05" stroke-linecap="round" stroke-linejoin="round"/>
<path transform="translate(456.00 324.00)" d="M1.60 -8.40L1.60 0.00M1.60 -8.40L6.80 -8.40M1.60 -4.40L4.80 -4.40M1.60 0.00L6.80 0.00" fill="none" stroke="#f00" stroke-width="1.05" stroke-linecap="round" stroke-linejoin="round"/>
<path transform="translate(464.59 329.00)" d="M2.43 -5.67L1.62 -5.40L1.08 -4.59L0.81 -3.24L0.81 -2.43L1.08 -1.08L1.62 -0.27L2.43 0.00L2.97 0.00L3.78 -0.27L4.32 -1.08L4.59 -2.43L4.59 -3.24L4.32 -4.59L3.78 -5.40L2.97 -5.67L2.43 -5.67M8.28 -4.86L8.28 0.00M5.85 -2.43L10.71 -2.43" fill="none" stroke="#f00" stroke-width="1.05" stroke-linecap="round" stroke-linejoin="round"/>
<path transform="translate(475.40 324.00)" d="M4.40 -10.00L3.60 -9.20L2.80 -8.00L2.00 -6.40L1.60 -4.40L1.60 -2.80L2.00 -0.80L2.80 0.80L3.60 2.00L4.40 2.80M7.75 -8.40L12.15 -8.40L9.75 -5.20L10.95 -5.20L11.75 -4.80L12.15 -4.40L12.55 -3.20L12.55 -2.40L12.15 -1.20L11.35 -0.40L10.15 0.00L8.95 0.00L7.75 -0.40L7.35 -0.80L6.95 -1.60M21.96 -10.00L14.76 2.80M24.59 -6.40L24.59 -6.80L24.99 -7.60L25.39 -8.00L26.19 -8.40L27.79 -8.40L28.59 -8.00L28.99 -7.60L29.39 -6.80L29.39 -6.00L28.99 -5.20L28.19 -4.00L24.19 0.00L29.79 0.00M32.40 -10.00L33.20 -9.20L34.00 -8.00L34.80 -6.40L35.20 -4.40L35.20 -2.80L34.80 -0.80L34.00 0.80L33.20 2.00L32.40 2.80" fill="none" stroke="#f00" stroke-width="1.05" stroke-linecap="round" stroke-linejoin="round"/>
</svg>
</body></html>
